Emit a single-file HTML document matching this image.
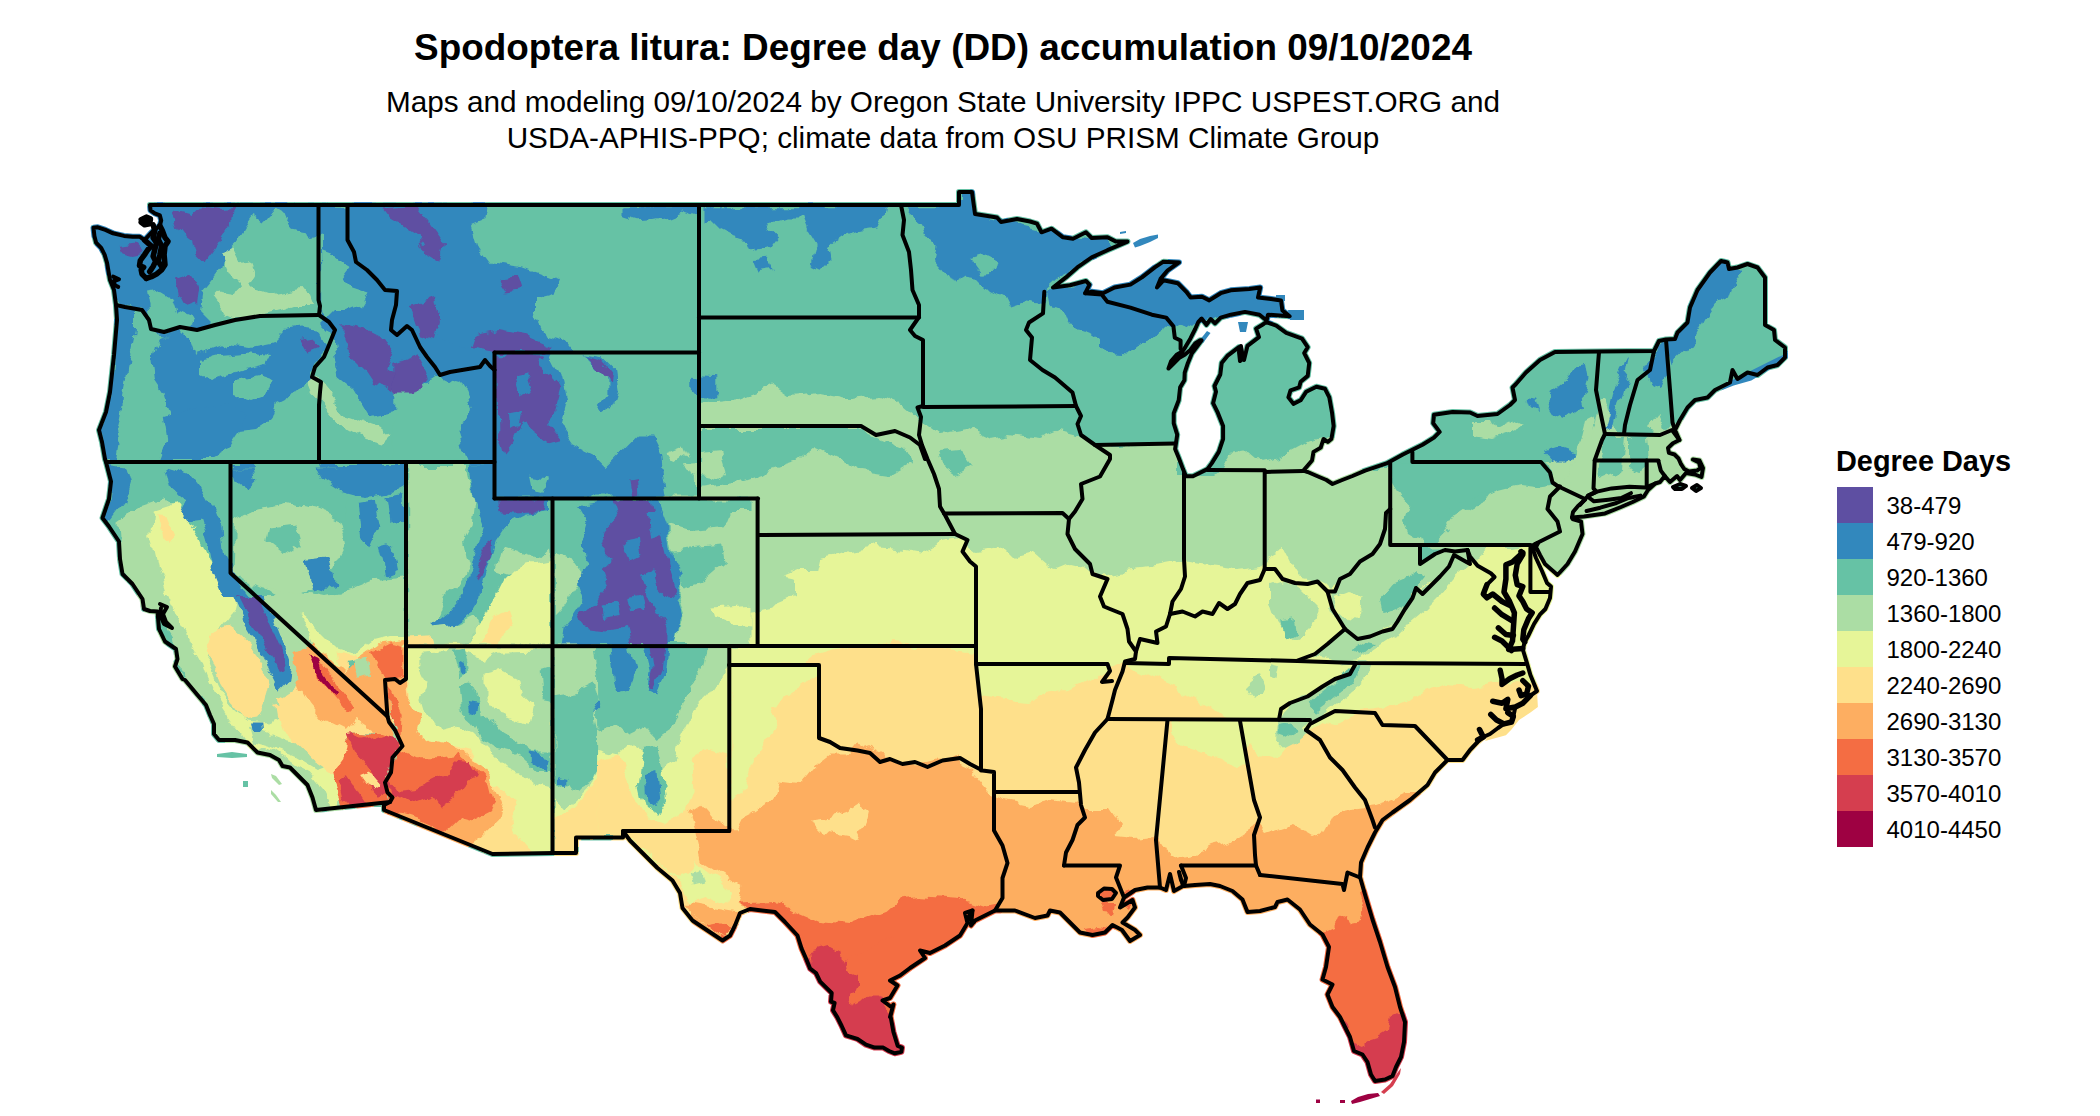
<!DOCTYPE html><html><head><meta charset="utf-8"><title>Spodoptera litura DD</title>
<style>html,body{margin:0;padding:0;background:#fff}body{width:2100px;height:1116px;overflow:hidden;position:relative;font-family:"Liberation Sans",sans-serif;color:#000}#map{position:absolute;left:0;top:0}h1{position:absolute;left:0;top:27.5px;width:1886px;margin:0;text-align:center;font-size:36.9px;font-weight:bold;line-height:40px}.sub{position:absolute;left:0;width:1886px;text-align:center;font-size:29.7px;line-height:36px;margin:0}.lt{position:absolute;left:1836px;top:445px;font-size:28.9px;font-weight:bold;line-height:32px;margin:0}.ll{position:absolute;left:1886.5px;font-size:24px;line-height:36px;height:36px;margin:0}.sw{position:absolute;left:1837px;width:36px;height:36px}</style></head><body>
<svg id="map" width="2100" height="1116" viewBox="0 0 2100 1116" shape-rendering="geometricPrecision">
<defs><mask id="us" maskUnits="userSpaceOnUse" x="0" y="0" width="2100" height="1116"><g fill="#fff" stroke="#fff" stroke-width="6" stroke-linejoin="round"><polygon points="150.0,205.0 959.0,205.0 959.0,192.0 972.0,192.0 975.0,214.0 997.0,217.5 1001.0,222.0 1017.0,219.0 1030.0,221.5 1037.0,223.7 1041.5,232.3 1051.5,228.7 1063.0,237.3 1073.0,238.7 1086.0,232.3 1091.7,238.0 1107.4,237.3 1116.0,241.6 1127.5,241.6 1107.4,250.2 1091.7,257.4 1077.3,267.4 1065.9,277.4 1053.0,287.5 1070.0,285.3 1086.0,281.0 1089.5,284.6 1085.2,293.2 1091.7,291.8 1103.0,293.2 1114.6,287.5 1130.4,284.6 1141.9,277.4 1154.8,267.4 1163.4,261.7 1179.0,262.4 1167.7,270.3 1160.5,278.9 1157.0,287.5 1163.4,280.3 1177.7,283.2 1186.3,291.8 1190.6,297.5 1202.0,296.8 1209.3,300.4 1220.7,293.2 1230.8,290.3 1249.4,288.9 1260.2,287.5 1258.0,297.5 1271.0,299.0 1281.0,300.4 1282.4,310.4 1289.6,316.2 1268.0,314.7 1266.6,320.5 1259.5,314.7 1245.0,311.9 1230.8,314.7 1220.7,317.6 1215.0,323.3 1210.7,319.0 1206.4,324.8 1201.6,318.5 1198.4,321.8 1195.2,329.0 1190.3,338.7 1185.5,346.8 1182.3,351.6 1176.6,354.8 1171.0,361.3 1168.5,368.5 1172.6,364.5 1179.0,358.0 1184.7,354.8 1190.3,350.0 1195.2,343.5 1200.0,340.3 1201.6,340.3 1196.8,346.8 1191.9,353.2 1187.9,362.9 1184.7,372.6 1184.4,380.2 1180.1,387.4 1178.7,400.3 1173.7,413.2 1173.7,423.3 1177.2,434.7 1175.1,449.1 1178.7,457.7 1183.0,469.1 1185.9,476.3 1193.0,476.3 1207.4,469.1 1211.7,463.4 1218.8,451.9 1223.1,439.0 1223.1,426.1 1217.4,411.8 1213.1,403.2 1216.0,391.7 1214.5,386.0 1220.3,374.5 1221.7,363.0 1227.4,355.9 1238.9,347.2 1240.5,358.0 1244.0,360.0 1247.5,345.8 1259.0,337.2 1256.1,328.6 1263.3,324.3 1266.0,322.0 1276.2,325.7 1286.2,332.9 1302.0,338.6 1307.7,347.2 1304.2,353.0 1309.2,363.0 1307.7,375.9 1300.6,381.7 1299.1,387.4 1290.5,390.3 1288.4,397.4 1293.4,403.9 1300.6,400.3 1306.3,391.7 1316.4,386.7 1325.0,388.8 1329.3,397.4 1332.1,413.2 1333.6,426.1 1331.4,439.0 1327.8,441.9 1323.5,439.0 1320.7,447.6 1313.5,451.9 1312.0,460.5 1303.4,470.6 1307.7,472.0 1319.2,477.0 1326.4,480.0 1332.5,484.0 1342.2,480.0 1352.5,476.0 1365.1,470.6 1386.6,463.4 1402.4,454.8 1422.5,444.8 1434.0,437.6 1439.7,431.9 1433.2,423.3 1434.0,414.7 1452.5,412.0 1470.0,412.5 1477.5,416.0 1497.5,414.0 1510.0,405.0 1515.0,400.0 1512.5,387.5 1516.0,384.0 1526.0,372.5 1540.0,360.0 1555.0,352.0 1599.0,351.5 1654.0,351.0 1659.0,341.0 1666.0,339.5 1675.0,339.0 1677.5,332.5 1687.5,322.5 1690.0,307.5 1697.5,290.0 1710.0,272.5 1721.0,261.0 1727.5,262.5 1729.0,269.0 1737.5,267.5 1747.5,264.0 1757.5,267.5 1765.0,277.5 1765.0,325.0 1774.0,330.0 1775.0,340.0 1785.0,347.5 1785.0,357.5 1777.5,365.0 1767.5,367.5 1757.5,375.0 1747.5,372.5 1737.5,379.0 1732.5,370.0 1730.0,382.5 1715.0,390.0 1707.5,397.5 1695.0,400.0 1687.5,407.5 1680.0,420.0 1675.0,430.0 1679.4,440.0 1672.9,443.2 1668.0,448.0 1668.9,452.9 1674.5,454.5 1678.5,458.5 1681.0,464.2 1684.2,469.0 1689.0,471.5 1697.0,470.6 1700.5,468.0 1699.0,462.5 1693.0,459.5 1699.5,460.5 1703.0,468.0 1701.5,477.0 1695.0,474.5 1686.0,473.0 1680.0,480.0 1677.0,476.0 1670.0,482.0 1664.8,476.0 1660.0,482.0 1655.2,483.5 1648.0,490.0 1643.9,496.5 1632.6,502.0 1621.0,507.0 1605.0,513.4 1584.0,516.6 1572.0,517.4 1572.5,519.0 1581.0,521.5 1582.5,534.0 1575.0,551.5 1567.5,564.0 1557.5,575.0 1553.0,571.0 1545.0,564.0 1540.0,555.0 1536.0,547.0 1538.0,543.0 1532.0,547.0 1536.0,558.0 1542.0,571.0 1547.0,583.0 1551.0,586.5 1550.0,598.0 1545.4,609.0 1539.8,614.7 1534.0,624.0 1528.5,635.4 1524.7,642.0 1522.8,649.5 1526.6,661.8 1530.4,675.0 1537.0,691.0 1530.4,695.6 1522.8,703.2 1515.3,707.0 1513.4,716.4 1511.5,722.0 1504.0,723.9 1498.0,728.0 1490.0,734.0 1483.3,737.0 1477.6,742.0 1470.0,750.0 1462.5,760.0 1447.5,760.0 1435.0,772.5 1427.5,785.0 1410.0,800.0 1392.5,812.5 1382.5,820.0 1375.0,832.5 1367.5,847.5 1361.0,862.5 1360.0,877.0 1365.0,894.5 1372.5,919.5 1380.0,942.0 1387.5,967.0 1395.0,987.0 1400.0,1007.0 1405.0,1022.0 1404.0,1042.0 1401.0,1057.0 1396.0,1067.0 1392.5,1076.0 1385.0,1079.5 1375.0,1081.0 1371.0,1074.5 1367.5,1062.0 1362.5,1054.5 1354.0,1051.0 1350.0,1037.0 1345.0,1027.0 1340.0,1017.0 1332.5,1007.0 1327.5,994.5 1332.5,984.5 1322.5,979.5 1326.0,967.0 1329.0,947.0 1322.5,934.5 1310.0,924.5 1300.0,909.5 1287.5,899.5 1277.5,902.0 1275.0,907.0 1260.0,911.0 1247.5,912.0 1242.5,899.5 1232.5,891.0 1220.0,886.0 1210.0,884.0 1195.0,885.0 1184.0,886.0 1181.0,880.0 1179.0,872.0 1183.0,886.0 1174.0,891.0 1170.0,874.0 1166.0,890.0 1160.0,887.5 1147.5,887.5 1135.0,890.0 1124.0,897.5 1120.0,907.5 1132.5,900.0 1135.0,907.5 1127.5,917.5 1122.5,922.5 1135.0,930.0 1140.0,935.0 1130.0,941.0 1122.0,930.0 1112.5,925.0 1105.0,932.5 1092.5,935.0 1080.0,932.5 1070.0,922.5 1060.0,912.5 1050.0,910.5 1047.5,915.5 1035.0,918.0 1015.0,910.5 995.0,910.5 975.0,920.5 971.0,925.5 972.5,910.5 965.0,913.0 967.5,923.0 960.0,935.5 945.0,945.5 930.0,953.0 920.0,950.5 925.0,958.0 910.0,968.0 900.0,975.5 890.0,980.5 897.5,985.5 890.0,998.0 882.5,1000.5 892.5,1008.0 890.0,1017.0 893.4,1004.5 890.5,1016.0 893.4,1031.8 897.7,1046.0 902.0,1047.6 901.3,1051.9 894.8,1053.3 889.0,1051.0 883.3,1047.6 874.7,1047.6 866.0,1044.7 857.5,1039.0 846.0,1035.4 841.7,1026.0 837.4,1017.4 833.0,1010.3 834.6,1003.0 831.0,1001.7 831.7,993.0 826.0,987.3 820.2,981.6 816.0,973.0 810.2,968.7 806.0,958.6 801.6,948.6 797.5,935.5 785.0,922.0 775.0,912.0 750.0,909.0 740.0,913.0 735.0,925.5 730.0,935.5 722.5,940.5 707.5,930.5 692.5,920.5 682.5,908.0 680.0,893.0 672.5,880.5 657.5,868.0 642.5,853.0 630.0,840.5 623.0,831.0 623.0,837.5 576.0,837.5 576.0,853.0 554.0,853.0 492.5,854.0 384.0,810.0 384.0,805.0 390.0,802.0 316.0,810.0 312.5,797.5 307.5,785.0 300.0,777.5 290.0,767.5 282.5,766.0 279.0,760.0 270.0,755.0 257.5,752.5 247.5,742.5 235.0,740.0 219.0,740.0 214.0,734.0 214.0,724.0 210.0,715.0 206.0,705.0 197.5,695.0 185.0,680.0 182.5,679.0 175.0,666.5 177.5,659.0 176.0,649.0 165.0,641.5 159.0,629.0 157.5,611.5 150.0,611.0 144.0,609.0 142.5,599.0 132.5,584.0 122.5,574.0 120.0,559.0 119.0,541.5 109.0,526.5 102.5,518.0 109.0,499.0 111.0,481.5 106.0,462.0 105.0,459.0 102.0,442.0 99.0,430.0 106.0,412.0 110.0,392.0 114.0,355.0 117.0,320.0 116.0,305.0 114.0,290.0 110.0,280.0 107.1,263.1 104.6,254.6 101.2,247.8 96.1,242.7 94.4,235.9 93.5,227.8 97.8,227.3 105.4,229.9 113.0,233.3 124.0,235.9 132.7,236.7 139.5,236.7 144.6,240.1 152.0,232.0 159.9,225.6 161.2,220.5 159.9,215.4 154.8,213.3 150.5,210.3"/>
</g></mask><filter id="rough" x="0" y="0" width="2100" height="1116" filterUnits="userSpaceOnUse"><feTurbulence type="fractalNoise" baseFrequency="0.045" numOctaves="4" seed="7" result="n"/><feDisplacementMap in="SourceGraphic" in2="n" scale="14" xChannelSelector="R" yChannelSelector="G"/></filter></defs>
<g mask="url(#us)"><g filter="url(#rough)">
<rect x="0" y="0" width="2100" height="1116" fill="#66C2A5"/>
<polygon fill="#ABDDA4" points="640.0,1200.0 640.0,520.0 665.0,500.0 668.0,470.0 680.0,440.0 699.0,405.0 740.0,400.0 760.0,392.0 775.0,385.0 790.0,395.0 820.0,392.0 850.0,398.0 880.0,395.0 905.0,405.0 917.0,415.0 940.0,432.0 965.0,428.0 990.0,440.0 1010.0,436.0 1040.0,440.0 1060.0,432.0 1080.0,437.0 1095.0,445.0 1120.0,446.0 1150.0,444.0 1176.0,443.0 1176.0,476.0 1215.0,476.0 1222.0,470.0 1232.0,455.0 1250.0,452.0 1262.0,462.0 1280.0,458.0 1295.0,450.0 1310.0,442.0 1325.0,436.0 1340.0,436.0 1340.0,470.0 1390.0,470.0 1400.0,480.0 1410.0,500.0 1425.0,515.0 1440.0,520.0 1455.0,512.0 1470.0,500.0 1490.0,490.0 1505.0,478.0 1520.0,470.0 1535.0,468.0 1545.0,462.0 1560.0,462.0 1575.0,455.0 1590.0,440.0 1596.0,420.0 1600.0,400.0 1606.0,400.0 1612.0,425.0 1640.0,440.0 1655.0,430.0 1672.0,428.0 1690.0,420.0 1900.0,420.0 1900.0,700.0 1900.0,1200.0 500.0,1200.0"/>
<polygon fill="#66C2A5" points="700.0,428.0 860.0,428.0 880.0,438.0 905.0,448.0 912.0,462.0 890.0,474.0 862.0,470.0 840.0,458.0 815.0,446.0 795.0,462.0 770.0,470.0 740.0,480.0 700.0,486.0"/>
<polygon fill="#66C2A5" points="940.0,452.0 960.0,450.0 972.0,466.0 958.0,474.0 943.0,464.0"/>
<polygon fill="#ABDDA4" points="700.0,452.0 722.0,450.0 728.0,470.0 715.0,478.0 700.0,476.0"/>
<polygon fill="#E6F598" points="640.0,1200.0 640.0,700.0 700.0,640.0 712.0,620.0 740.0,612.0 758.0,610.0 773.0,607.0 797.0,597.0 797.0,580.0 783.0,577.0 800.0,570.0 817.0,570.0 820.0,557.0 840.0,553.0 873.0,547.0 907.0,550.0 923.0,553.0 940.0,543.0 960.0,540.0 977.0,553.0 993.0,550.0 1007.0,547.0 1017.0,557.0 1033.0,553.0 1053.0,570.0 1070.0,563.0 1087.0,567.0 1100.0,577.0 1120.0,573.0 1140.0,570.0 1160.0,567.0 1183.0,563.0 1207.0,567.0 1233.0,570.0 1260.0,567.0 1270.0,555.0 1283.0,548.0 1290.0,562.0 1300.0,578.0 1318.0,582.0 1328.0,592.0 1340.0,580.0 1352.0,574.0 1362.0,562.0 1375.0,554.0 1384.0,560.0 1370.0,580.0 1395.0,600.0 1420.0,590.0 1450.0,572.0 1470.0,560.0 1490.0,548.0 1510.0,548.0 1525.0,545.0 1537.0,548.0 1545.0,562.0 1557.0,576.0 1900.0,576.0 1900.0,700.0 1900.0,1200.0 500.0,1200.0"/>
<polygon fill="#FEE08B" points="560.0,1200.0 600.0,860.0 640.0,800.0 700.0,760.0 735.0,740.0 775.0,690.0 790.0,672.0 815.0,656.0 835.0,650.0 873.0,643.0 907.0,645.0 940.0,650.0 976.0,657.0 981.0,697.0 1007.0,700.0 1027.0,703.0 1047.0,693.0 1067.0,690.0 1087.0,680.0 1107.0,670.0 1120.0,663.0 1135.0,670.0 1160.0,682.0 1180.0,690.0 1197.0,700.0 1215.0,710.0 1228.0,720.0 1235.0,735.0 1250.0,742.0 1262.0,755.0 1278.0,760.0 1290.0,745.0 1300.0,735.0 1310.0,728.0 1322.0,721.0 1335.0,724.0 1350.0,719.0 1360.0,709.0 1385.0,706.0 1405.0,699.0 1430.0,689.0 1447.0,684.0 1472.0,686.0 1500.0,681.0 1522.0,684.0 1900.0,684.0 1900.0,700.0 1900.0,1200.0 500.0,1200.0"/>
<polygon fill="#FDAE61" points="692.0,1200.0 692.0,810.0 705.0,808.0 715.0,823.0 735.0,825.0 745.0,815.0 760.0,808.0 775.0,795.0 780.0,783.0 800.0,780.0 810.0,773.0 820.0,760.0 835.0,753.0 850.0,753.0 865.0,760.0 880.0,770.0 897.0,765.0 917.0,768.0 935.0,765.0 955.0,763.0 970.0,770.0 985.0,788.0 992.0,795.0 1005.0,800.0 1030.0,805.0 1052.0,800.0 1075.0,803.0 1085.0,810.0 1110.0,810.0 1120.0,825.0 1115.0,835.0 1135.0,837.0 1155.0,835.0 1167.0,850.0 1172.0,860.0 1195.0,855.0 1210.0,847.0 1230.0,842.0 1245.0,832.0 1257.0,825.0 1265.0,835.0 1280.0,830.0 1295.0,825.0 1312.0,835.0 1325.0,830.0 1332.0,817.0 1345.0,810.0 1360.0,807.0 1375.0,805.0 1390.0,800.0 1407.0,792.0 1900.0,792.0 1900.0,700.0 1900.0,1200.0 500.0,1200.0"/>
<polygon fill="#F46D43" points="745.0,905.0 760.0,898.0 775.0,898.0 790.0,900.0 800.0,910.0 815.0,918.0 830.0,923.0 850.0,923.0 870.0,918.0 885.0,920.0 900.0,913.0 895.0,900.0 910.0,898.0 920.0,908.0 935.0,903.0 950.0,898.0 970.0,903.0 985.0,908.0 1000.0,905.0 1020.0,1100.0 700.0,1100.0 720.0,930.0"/>
<polygon fill="#F46D43" points="1310.0,940.0 1322.0,934.0 1335.0,928.0 1340.0,915.0 1348.0,912.0 1352.0,922.0 1362.0,920.0 1366.0,905.0 1362.0,890.0 1372.0,888.0 1385.0,925.0 1420.0,1000.0 1420.0,1100.0 1300.0,1100.0"/>
<polygon fill="#D53E4F" points="800.0,965.0 807.0,959.0 814.0,949.0 822.0,946.0 835.0,947.0 842.0,950.0 847.0,960.0 850.0,973.0 859.0,977.0 859.0,987.0 855.0,997.0 849.0,999.0 852.0,1007.0 860.0,1003.0 869.0,994.5 879.0,994.5 886.0,1004.5 892.0,1016.0 910.0,1060.0 850.0,1070.0 800.0,1000.0"/>
<polygon fill="#D53E4F" points="1338.0,1020.0 1345.0,1027.0 1352.0,1042.0 1362.0,1046.0 1368.0,1040.0 1380.0,1036.0 1390.0,1030.0 1393.0,1015.0 1408.0,1008.0 1420.0,1100.0 1330.0,1100.0"/>
<polygon fill="#3288BD" points="90.0,225.0 150.0,203.8 320.0,203.8 320.0,237.5 310.0,240.0 306.2,230.0 292.5,227.5 285.0,217.5 272.5,210.0 262.5,222.5 252.5,215.0 243.8,227.5 235.0,242.5 225.0,252.5 222.5,267.5 212.5,280.0 202.5,292.5 200.0,310.0 210.0,320.0 200.0,330.0 185.0,330.0 165.0,333.8 150.0,330.0 147.5,315.0 142.5,310.0 116.2,305.0 110.0,280.0 100.0,252.5 92.5,245.0"/>
<polygon fill="#66C2A5" points="145.0,292.5 160.0,290.0 172.5,297.5 177.5,312.5 195.0,320.0 190.0,330.0 165.0,331.2 152.5,327.5 148.8,315.0"/>
<polygon fill="#ABDDA4" points="220.0,252.5 232.5,247.5 240.0,262.5 250.0,260.0 255.0,272.5 250.0,280.0 260.0,290.0 275.0,295.0 300.0,290.0 310.0,292.5 315.0,305.0 295.0,305.0 280.0,310.0 260.0,315.0 235.0,316.2 220.0,310.0 212.5,300.0 220.0,292.5 235.0,295.0 240.0,285.0 230.0,275.0"/>
<polygon fill="#5E4FA2" points="172.5,212.5 190.0,217.5 200.0,207.5 220.0,210.0 235.0,208.8 232.5,222.5 222.5,237.5 212.5,252.5 205.0,262.5 197.5,255.0 195.0,245.0 185.0,237.5 177.5,227.5"/>
<polygon fill="#5E4FA2" points="175.0,277.5 190.0,272.5 198.8,285.0 196.2,305.0 186.2,308.8 178.8,295.0"/>
<polygon fill="#5E4FA2" points="120.0,245.0 135.0,242.5 145.0,252.5 132.5,255.0 122.5,252.5"/>
<polygon fill="#3288BD" points="320.0,203.8 485.0,203.8 482.5,220.0 470.0,225.0 475.0,242.5 490.0,262.5 525.0,267.5 560.0,280.0 555.0,292.5 535.0,297.5 535.0,315.0 545.0,335.0 565.0,340.0 575.0,352.5 495.0,352.5 492.5,377.5 485.0,370.0 450.0,380.0 425.0,400.0 392.5,410.0 370.0,415.0 355.0,390.0 337.5,375.0 332.5,345.0 330.0,330.0 320.0,320.0 320.0,240.0"/>
<polygon fill="#66C2A5" points="321.2,250.0 335.0,255.0 347.5,265.0 340.0,275.0 352.5,287.5 367.5,292.5 360.0,305.0 347.5,310.0 335.0,310.0 325.0,320.0 321.2,315.0"/>
<polygon fill="#5E4FA2" points="382.5,207.5 415.0,205.0 430.0,225.0 445.0,245.0 440.0,262.5 427.5,255.0 417.5,235.0 402.5,225.0 390.0,217.5"/>
<polygon fill="#5E4FA2" points="497.5,277.5 517.5,275.0 522.5,290.0 507.5,292.5"/>
<polygon fill="#5E4FA2" points="410.0,305.0 435.0,297.5 440.0,320.0 435.0,340.0 420.0,335.0 415.0,320.0"/>
<polygon fill="#5E4FA2" points="475.0,335.0 500.0,330.0 525.0,335.0 547.5,345.0 545.0,352.5 495.0,352.5 485.0,355.0 470.0,350.0"/>
<polygon fill="#5E4FA2" points="342.5,325.0 365.0,330.0 385.0,340.0 395.0,355.0 390.0,370.0 405.0,380.0 415.0,395.0 405.0,400.0 390.0,390.0 375.0,385.0 365.0,370.0 350.0,355.0 342.5,340.0"/>
<polygon fill="#3288BD" points="495.0,352.5 585.0,352.5 585.0,360.0 570.0,365.0 560.0,380.0 565.0,405.0 575.0,420.0 570.0,440.0 555.0,459.0 495.0,459.0"/>
<polygon fill="#5E4FA2" points="496.2,353.8 550.0,353.8 555.0,370.0 550.0,392.5 557.5,417.5 550.0,435.0 530.0,425.0 517.5,405.0 507.5,430.0 500.0,445.0 496.2,430.0"/>
<polygon fill="#ABDDA4" points="305.0,380.0 315.0,377.5 325.0,387.5 335.0,400.0 345.0,415.0 360.0,420.0 380.0,427.5 392.5,437.5 385.0,445.0 365.0,440.0 347.5,430.0 332.5,417.5 322.5,405.0 310.0,392.5"/>
<polygon fill="#3288BD" points="113.8,305.0 135.0,310.0 135.0,330.0 130.0,355.0 125.0,380.0 122.5,405.0 117.5,430.0 122.5,445.0 120.0,459.0 105.0,459.0 98.8,430.0 106.2,412.5 110.0,392.5 113.8,355.0 117.5,320.0"/>
<polygon fill="#3288BD" points="160.0,335.0 180.0,330.0 190.0,340.0 195.0,355.0 210.0,350.0 230.0,342.5 250.0,345.0 275.0,340.0 285.0,330.0 300.0,327.5 320.0,330.0 327.5,345.0 320.0,360.0 310.0,370.0 310.0,380.0 295.0,387.5 285.0,400.0 275.0,405.0 270.0,420.0 255.0,430.0 235.0,432.5 220.0,440.0 210.0,430.0 200.0,440.0 195.0,459.0 160.0,459.0 167.5,440.0 170.0,415.0 165.0,395.0 155.0,380.0 152.5,360.0 155.0,345.0"/>
<polygon fill="#66C2A5" points="200.0,360.0 220.0,355.0 250.0,352.5 270.0,355.0 265.0,365.0 245.0,370.0 225.0,375.0 210.0,380.0 200.0,375.0"/>
<polygon fill="#66C2A5" points="235.0,380.0 260.0,375.0 275.0,380.0 270.0,392.5 250.0,400.0 235.0,395.0"/>
<polygon fill="#5E4FA2" points="300.0,340.0 315.0,337.5 320.0,347.5 307.5,352.5"/>
<polygon fill="#3288BD" points="622.5,206.2 695.0,206.2 695.0,217.5 680.0,212.5 667.5,217.5 655.0,220.0 635.0,221.2 622.5,217.5"/>
<polygon fill="#3288BD" points="702.5,206.2 885.0,206.2 882.5,217.5 877.5,227.5 860.0,230.0 845.0,235.0 835.0,242.5 825.0,250.0 827.5,262.5 820.0,270.0 810.0,265.0 812.5,252.5 817.5,242.5 810.0,230.0 805.0,217.5 785.0,217.5 770.0,222.5 767.5,230.0 777.5,240.0 770.0,250.0 755.0,252.5 750.0,240.0 735.0,237.5 720.0,230.0 710.0,220.0 702.5,222.5"/>
<polygon fill="#3288BD" points="752.5,260.0 770.0,258.8 772.5,270.0 757.5,272.5"/>
<polygon fill="#3288BD" points="902.5,206.2 960.0,206.2 960.0,192.5 972.0,192.5 975.0,213.8 1045.0,230.0 1110.0,238.8 1110.0,248.8 1060.0,277.5 1045.0,291.2 1042.5,305.0 1025.0,302.5 1010.0,307.5 1005.0,297.5 990.0,290.0 980.0,280.0 965.0,277.5 952.5,285.0 945.0,272.5 935.0,260.0 937.5,247.5 927.5,237.5 920.0,222.5 907.5,212.5"/>
<polygon fill="#66C2A5" points="972.5,260.0 985.0,256.2 997.5,262.5 995.0,272.5 982.5,273.8"/>
<polygon fill="#3288BD" points="1045.0,291.2 1110.0,280.0 1110.0,350.0 1100.0,340.0 1085.0,330.0 1070.0,327.5 1065.0,315.0 1060.0,307.5 1047.5,305.0"/>
<polygon fill="#3288BD" points="585.0,352.5 605.0,355.0 617.5,370.0 620.0,387.5 612.5,405.0 605.0,415.0 592.5,407.5 605.0,400.0 607.5,387.5 595.0,377.5 585.0,370.0"/>
<polygon fill="#5E4FA2" points="585.0,355.0 600.0,360.0 612.5,372.5 617.5,385.0 610.0,387.5 600.0,375.0 590.0,365.0"/>
<polygon fill="#3288BD" points="695.0,377.5 712.5,377.5 716.2,390.0 710.0,398.8 701.2,397.5 695.0,387.5"/>
<polygon fill="#3288BD" points="622.5,437.5 650.0,435.0 660.0,450.0 655.0,459.0 617.5,459.0"/>
<polygon fill="#3288BD" points="1100.0,275.0 1185.0,255.0 1300.0,280.0 1305.0,320.0 1270.0,320.0 1245.0,311.2 1215.0,320.0 1192.5,330.0 1185.0,327.5 1167.5,322.5 1163.8,330.0 1155.0,340.0 1135.0,347.5 1125.0,352.5 1100.0,350.0"/>
<polygon fill="#3288BD" points="1666.2,340.0 1675.0,338.8 1677.5,332.5 1687.5,322.5 1690.0,307.5 1697.5,290.0 1710.0,272.5 1721.2,260.0 1727.5,261.2 1728.8,268.8 1737.5,267.5 1745.0,270.0 1735.0,282.5 1730.0,297.5 1715.0,305.0 1705.0,320.0 1695.0,340.0 1685.0,352.5 1672.5,365.0 1668.8,350.0"/>
<polygon fill="#3288BD" points="1653.8,350.0 1666.2,338.8 1668.8,370.0 1660.0,390.0 1650.0,385.0 1645.0,370.0 1650.0,357.5"/>
<polygon fill="#3288BD" points="1605.0,432.5 1610.0,415.0 1615.0,390.0 1625.0,360.0 1630.0,355.0 1625.0,380.0 1617.5,410.0 1612.5,430.0"/>
<polygon fill="#3288BD" points="1547.5,390.0 1560.0,380.0 1575.0,367.5 1585.0,365.0 1587.5,380.0 1582.5,395.0 1585.0,405.0 1575.0,412.5 1565.0,420.0 1555.0,415.0 1548.8,405.0"/>
<polygon fill="#3288BD" points="1527.5,397.5 1536.2,398.8 1540.0,410.0 1531.2,407.5"/>
<polygon fill="#3288BD" points="1545.0,452.5 1560.0,447.5 1575.0,452.5 1570.0,462.5 1555.0,462.5"/>
<polygon fill="#3288BD" points="1725.0,390.0 1745.0,382.5 1757.5,376.2 1775.0,367.5 1790.0,352.5 1787.5,360.0 1767.5,365.0 1750.0,372.5 1735.0,382.5"/>
<polygon fill="#ABDDA4" points="117.5,521.5 142.5,504.0 165.0,496.5 190.0,524.0 210.0,564.0 230.0,599.0 255.0,634.0 285.0,684.0 300.0,709.0 305.0,738.0 210.0,738.0 200.0,704.0 177.5,664.0 160.0,634.0 142.5,606.5 120.0,564.0"/>
<polygon fill="#3288BD" points="107.5,464.0 125.0,466.5 130.0,484.0 125.0,501.5 110.0,521.5 102.5,517.8 108.8,499.0 111.2,481.5"/>
<polygon fill="#3288BD" points="165.0,466.5 190.0,474.0 200.0,486.5 210.0,504.0 205.0,519.0 185.0,521.5 180.0,509.0 185.0,499.0 170.0,486.5"/>
<polygon fill="#E6F598" points="153.8,511.5 177.5,504.0 200.0,539.0 220.0,584.0 235.0,619.0 255.0,649.0 275.0,684.0 285.0,709.0 272.5,724.0 250.0,724.0 235.0,709.0 215.0,684.0 195.0,654.0 180.0,621.5 167.5,594.0 157.5,564.0 151.2,534.0"/>
<polygon fill="#FEE08B" points="156.2,515.2 167.5,516.5 175.0,534.0 170.0,544.0 161.2,536.5"/>
<polygon fill="#FEE08B" points="200.0,634.0 220.0,624.0 235.0,639.0 250.0,656.5 265.0,674.0 272.5,694.0 270.0,714.0 255.0,719.0 245.0,704.0 230.0,684.0 215.0,664.0 202.5,649.0"/>
<polygon fill="#3288BD" points="200.0,494.0 215.0,509.0 222.5,529.0 225.0,554.0 235.0,574.0 250.0,594.0 265.0,614.0 280.0,634.0 290.0,659.0 292.5,684.0 285.0,691.5 275.0,679.0 265.0,659.0 250.0,639.0 235.0,619.0 222.5,594.0 212.5,569.0 207.5,544.0 200.0,519.0"/>
<polygon fill="#5E4FA2" points="235.0,594.0 250.0,599.0 260.0,619.0 275.0,634.0 285.0,659.0 287.5,676.5 280.0,679.0 270.0,659.0 257.5,639.0 245.0,621.5"/>
<polygon fill="#3288BD" points="232.5,464.0 255.0,464.0 260.0,479.0 250.0,489.0 235.0,484.0"/>
<polygon fill="#3288BD" points="320.0,464.0 405.0,464.0 405.0,484.0 385.0,494.0 360.0,496.5 340.0,489.0 325.0,479.0"/>
<polygon fill="#ABDDA4" points="235.0,499.0 255.0,494.0 275.0,484.0 300.0,489.0 320.0,496.5 335.0,509.0 330.0,529.0 315.0,544.0 305.0,564.0 285.0,576.5 265.0,569.0 250.0,564.0 245.0,576.5 232.5,571.5"/>
<polygon fill="#3288BD" points="360.0,509.0 375.0,501.5 380.0,524.0 370.0,541.5 360.0,529.0"/>
<polygon fill="#3288BD" points="305.0,569.0 320.0,564.0 335.0,574.0 325.0,589.0 310.0,584.0"/>
<polygon fill="#3288BD" points="380.0,549.0 395.0,544.0 400.0,569.0 385.0,574.0"/>
<polygon fill="#ABDDA4" points="255.0,581.5 275.0,579.0 300.0,589.0 325.0,594.0 350.0,589.0 375.0,579.0 405.0,576.5 405.0,639.0 385.0,634.0 365.0,629.0 345.0,639.0 325.0,634.0 305.0,619.0 280.0,599.0"/>
<polygon fill="#E6F598" points="295.0,621.5 310.0,624.0 330.0,639.0 350.0,644.0 370.0,634.0 390.0,639.0 405.0,644.0 405.0,659.0 385.0,654.0 367.5,664.0 355.0,674.0 340.0,669.0 325.0,656.5 310.0,641.5"/>
<polygon fill="#FEE08B" points="295.0,649.0 310.0,644.0 325.0,659.0 335.0,674.0 355.0,676.5 367.5,666.5 385.0,659.0 405.0,659.0 405.0,684.0 387.5,684.0 390.0,719.0 395.0,738.0 285.0,738.0 290.0,709.0 292.5,679.0"/>
<polygon fill="#FDAE61" points="300.0,659.0 312.5,654.0 325.0,669.0 335.0,689.0 350.0,709.0 367.5,724.0 385.0,719.0 382.5,699.0 370.0,684.0 375.0,664.0 395.0,649.0 405.0,649.0 405.0,679.0 385.0,681.5 387.5,716.5 395.0,738.0 310.0,738.0 300.0,709.0 295.0,684.0"/>
<polygon fill="#F46D43" points="372.5,664.0 385.0,654.0 400.0,649.0 405.0,656.5 402.5,676.5 385.0,679.0 375.0,684.0 367.5,676.5"/>
<polygon fill="#9E0142" points="310.0,654.0 320.0,659.0 325.0,676.5 335.0,691.5 347.5,709.0 342.5,711.5 330.0,696.5 320.0,681.5 312.5,669.0"/>
<polygon fill="#F46D43" points="347.5,709.0 367.5,719.0 385.0,724.0 392.5,738.0 355.0,738.0 340.0,719.0"/>
<polygon fill="#ABDDA4" points="407.5,464.0 450.0,466.5 470.0,479.0 475.0,499.0 470.0,524.0 460.0,544.0 450.0,564.0 445.0,584.0 435.0,599.0 430.0,619.0 420.0,634.0 407.5,644.0"/>
<polygon fill="#3288BD" points="475.0,466.5 493.8,466.5 493.8,499.0 500.0,504.0 550.0,501.5 550.0,519.0 525.0,521.5 510.0,534.0 500.0,549.0 490.0,564.0 485.0,584.0 480.0,604.0 460.0,619.0 440.0,629.0 432.5,624.0 445.0,609.0 460.0,589.0 470.0,564.0 480.0,539.0 485.0,519.0 477.5,499.0"/>
<polygon fill="#5E4FA2" points="495.0,504.0 540.0,502.8 535.0,515.2 500.0,517.8"/>
<polygon fill="#5E4FA2" points="485.0,546.5 495.0,544.0 492.5,564.0 482.5,579.0 475.0,594.0 470.0,589.0 480.0,569.0"/>
<polygon fill="#ABDDA4" points="505.0,534.0 525.0,526.5 550.0,524.0 550.0,564.0 525.0,566.5 505.0,574.0 495.0,564.0"/>
<polygon fill="#E6F598" points="500.0,579.0 510.0,569.0 530.0,564.0 550.0,559.0 550.0,644.0 407.5,645.2 407.5,634.0 430.0,631.5 450.0,634.0 470.0,631.5 485.0,634.0 495.0,619.0 490.0,599.0"/>
<polygon fill="#FEE08B" points="495.0,624.0 510.0,619.0 525.0,629.0 510.0,639.0 495.0,639.0"/>
<polygon fill="#3288BD" points="417.2,337.1 494.0,351.5 494.0,463.2 468.8,463.2 463.1,448.9 457.3,426.0 468.8,403.1 457.3,380.1 437.3,374.4 422.9,357.2"/>
<polygon fill="#66C2A5" points="394.3,391.6 437.3,377.3 465.9,391.6 471.7,405.9 460.2,426.0 457.3,448.9 463.1,462.7 394.3,462.7"/>
<polygon fill="#5E4FA2" points="394.3,362.9 417.2,354.3 428.7,374.4 414.3,394.5 394.3,394.5"/>
<polygon fill="#66C2A5" points="494.0,352.0 698.1,352.0 698.1,497.6 494.0,497.6"/>
<polygon fill="#3288BD" points="494.0,352.0 549.0,352.0 560.5,374.4 566.2,403.1 560.5,426.0 572.0,443.2 594.9,454.6 606.4,466.1 623.6,448.9 635.0,437.4 652.2,437.4 660.8,454.6 663.7,477.6 666.6,497.6 494.0,497.6"/>
<polygon fill="#5E4FA2" points="496.0,354.3 543.3,354.3 551.9,374.4 560.5,391.6 554.8,411.7 546.2,423.1 560.5,440.3 549.0,443.2 534.7,431.7 523.2,423.1 514.6,440.3 503.2,454.6 497.4,434.6"/>
<polygon fill="#3288BD" points="583.4,354.3 600.6,357.2 615.0,371.5 617.8,391.6 612.1,408.8 603.5,414.5 597.8,405.9 606.4,394.5 606.4,377.3 594.9,365.8"/>
<polygon fill="#5E4FA2" points="586.3,355.8 600.6,360.1 612.1,374.4 610.7,383.0 600.6,371.5"/>
<polygon fill="#66C2A5" points="529.0,474.7 549.0,477.6 543.3,491.9 531.8,489.0"/>
<polygon fill="#5E4FA2" points="629.3,480.4 637.9,479.0 639.3,494.8 632.2,496.2"/>
<polygon fill="#ABDDA4" points="666.6,454.6 683.7,447.5 686.6,454.6 672.3,463.2"/>
<polygon fill="#ABDDA4" points="680.9,463.2 698.1,461.8 698.1,477.6 686.6,471.8"/>
<polygon fill="#3288BD" points="692.3,375.8 715.3,377.3 715.3,397.3 700.9,398.8 692.3,388.7"/>
<polygon fill="#66C2A5" points="406.3,463.8 494.0,463.8 494.0,498.2 552.5,498.2 552.5,645.2 406.3,645.2"/>
<polygon fill="#ABDDA4" points="407.2,466.1 465.9,466.1 474.5,500.5 471.7,523.4 463.1,540.6 468.8,569.3 457.3,586.5 443.0,598.0 437.3,615.2 431.5,643.8 407.2,643.8"/>
<polygon fill="#3288BD" points="468.8,463.2 494.0,463.2 494.0,497.6 549.0,499.1 549.0,512.0 526.1,514.8 508.9,523.4 497.4,540.6 491.7,557.8 483.1,577.9 480.3,598.0 471.7,612.3 451.6,626.6 434.4,632.3 431.5,623.7 448.7,609.4 463.1,592.2 471.7,569.3 477.4,546.4 483.1,523.4 474.5,500.5"/>
<polygon fill="#5E4FA2" points="496.0,500.5 546.2,500.5 543.3,512.0 514.6,513.4 497.4,512.0"/>
<polygon fill="#5E4FA2" points="483.1,546.4 491.7,540.6 491.7,557.8 483.1,569.3 477.4,583.6 474.5,577.9"/>
<polygon fill="#ABDDA4" points="503.2,546.4 520.4,552.1 537.6,557.8 549.0,546.4 551.3,569.3 514.6,575.0 497.4,569.3"/>
<polygon fill="#E6F598" points="514.6,569.3 537.6,563.6 551.3,560.7 551.3,644.4 465.9,644.4 480.3,626.6 494.6,598.0 503.2,580.8"/>
<polygon fill="#ABDDA4" points="431.5,626.6 457.3,623.7 474.5,615.2 480.3,626.6 465.9,644.4 428.7,644.4"/>
<polygon fill="#FEE08B" points="494.6,615.2 508.9,609.4 514.6,626.6 497.4,640.9 480.3,643.8"/>
<polygon fill="#FEE08B" points="406.3,636.6 434.4,635.2 437.3,644.4 406.3,644.4"/>
<polygon fill="#66C2A5" points="553.6,499.4 686.6,499.4 686.6,647.8 553.6,647.8"/>
<polygon fill="#ABDDA4" points="663.7,499.4 752.5,499.4 752.5,647.8 675.2,647.8 682.3,615.2 676.6,598.0 682.3,575.0 673.7,557.8 668.0,523.4"/>
<polygon fill="#66C2A5" points="658.0,500.5 752.5,500.5 752.5,512.0 729.6,512.0 723.9,526.3 686.6,529.2 666.6,523.4"/>
<polygon fill="#66C2A5" points="669.4,552.1 721.0,546.4 723.9,563.6 703.8,580.8 683.7,586.5 675.2,569.3"/>
<polygon fill="#E6F598" points="712.4,606.6 752.5,603.7 752.5,626.6 729.6,623.7 715.3,618.0"/>
<polygon fill="#ABDDA4" points="554.8,552.1 572.0,557.8 583.4,575.0 572.0,592.2 560.5,609.4 554.8,615.2"/>
<polygon fill="#3288BD" points="577.7,506.2 612.1,500.5 658.0,500.5 666.6,523.4 672.3,557.8 680.9,575.0 675.2,598.0 680.9,615.2 675.2,647.8 560.5,647.8 563.4,626.6 572.0,615.2 583.4,598.0 577.7,580.8 589.2,563.6 583.4,546.4 589.2,526.3"/>
<polygon fill="#5E4FA2" points="612.1,500.5 652.2,500.5 658.0,523.4 663.7,546.4 669.4,569.3 675.2,586.5 669.4,598.0 658.0,586.5 652.2,569.3 640.8,575.0 646.5,592.2 658.0,609.4 669.4,626.6 669.4,647.8 629.3,647.8 623.6,626.6 606.4,629.5 583.4,626.6 577.7,612.3 594.9,603.7 606.4,586.5 600.6,569.3 612.1,557.8 600.6,546.4 606.4,529.2 617.8,517.7"/>
<polygon fill="#ABDDA4" points="185.0,675.0 242.5,675.0 265.0,695.0 285.0,720.0 310.0,730.0 325.0,745.0 335.0,762.5 340.0,785.0 345.0,805.0 316.2,811.2 307.5,785.0 282.5,766.2 257.5,752.5 235.0,740.0 213.8,733.8 206.2,705.0"/>
<polygon fill="#E6F598" points="222.5,690.0 242.5,695.0 265.0,710.0 280.0,730.0 300.0,740.0 320.0,755.0 330.0,775.0 335.0,797.5 325.0,802.5 315.0,780.0 295.0,760.0 270.0,750.0 250.0,735.0 235.0,720.0"/>
<polygon fill="#FEE08B" points="235.0,675.0 290.0,675.0 300.0,695.0 290.0,712.5 270.0,712.5 255.0,702.5 240.0,695.0"/>
<polygon fill="#FDAE61" points="290.0,675.0 385.0,675.0 388.8,715.0 395.0,730.0 385.0,737.5 370.0,732.5 350.0,730.0 335.0,725.0 315.0,720.0 300.0,710.0"/>
<polygon fill="#FEE08B" points="300.0,710.0 315.0,720.0 335.0,725.0 340.0,745.0 332.5,762.5 320.0,752.5 310.0,735.0 295.0,725.0"/>
<polygon fill="#F46D43" points="330.0,755.0 345.0,732.5 392.5,730.0 402.5,746.2 391.2,772.5 385.0,782.5 392.5,797.5 390.0,803.0 340.0,806.2 335.0,787.5"/>
<polygon fill="#D53E4F" points="345.0,735.0 370.0,730.0 385.0,736.2 397.5,745.5 391.2,762.5 385.0,782.5 388.8,800.0 360.0,804.5 352.5,790.0 357.5,775.0 350.0,760.0 342.5,750.0"/>
<polygon fill="#3288BD" points="317.5,742.5 327.5,743.8 327.5,753.8 320.0,752.5"/>
<polygon fill="#FEE08B" points="383.9,644.7 552.5,644.7 552.5,854.9 494.4,854.9 383.9,811.5"/>
<polygon fill="#E6F598" points="406.6,644.7 552.5,644.7 552.5,854.9 533.8,854.9 518.0,837.2 510.1,817.4 518.0,801.7 506.2,789.8 490.4,778.0 478.6,762.2 466.8,750.4 451.0,746.5 431.3,742.5 415.5,730.7 409.6,711.0 407.6,679.4"/>
<polygon fill="#ABDDA4" points="419.4,651.8 451.0,649.9 482.5,659.7 498.3,651.8 552.5,649.9 552.5,789.8 537.7,785.9 522.0,774.1 506.2,766.2 490.4,750.4 474.6,734.6 458.9,724.8 443.1,728.7 427.3,718.9 421.4,699.1 427.3,683.4 419.4,667.6"/>
<polygon fill="#E6F598" points="486.5,675.5 502.2,671.5 518.0,679.4 522.0,695.2 533.8,707.0 529.8,722.8 514.1,718.9 498.3,714.9 486.5,699.1"/>
<polygon fill="#66C2A5" points="456.9,685.3 470.7,683.4 478.6,699.1 482.5,718.9 498.3,730.7 518.0,742.5 533.8,750.4 552.5,750.4 552.5,774.1 537.7,774.1 525.9,762.2 510.1,750.4 494.4,746.5 482.5,738.6 472.7,722.8 458.9,711.0"/>
<polygon fill="#66C2A5" points="539.7,671.5 552.5,667.6 552.5,705.1 541.7,703.1"/>
<polygon fill="#66C2A5" points="452.9,653.8 464.8,651.8 468.7,669.6 458.9,675.5"/>
<polygon fill="#3288BD" points="529.8,750.4 541.7,752.4 549.6,762.2 547.6,774.1 537.7,766.2 529.8,760.3"/>
<polygon fill="#3288BD" points="466.8,701.1 478.6,703.1 476.6,712.9 468.7,711.0"/>
<polygon fill="#3288BD" points="457.9,659.7 463.8,661.7 464.8,671.5 458.9,669.6"/>
<polygon fill="#FDAE61" points="385.9,679.4 405.6,679.4 407.6,699.1 419.4,714.9 415.5,730.7 431.3,742.5 451.0,746.5 466.8,754.4 482.5,766.2 494.4,782.0 502.2,801.7 498.3,821.4 482.5,837.2 466.8,849.0 383.9,813.5"/>
<polygon fill="#F46D43" points="378.0,647.9 405.6,647.9 405.6,679.4 385.9,679.4 401.7,714.9 399.7,750.4 415.5,758.3 439.1,758.3 458.9,754.4 474.6,766.2 490.4,782.0 494.4,797.7 490.4,813.5 474.6,821.4 458.9,817.4 447.0,829.3 419.4,821.4 385.9,811.5 378.0,797.7"/>
<polygon fill="#D53E4F" points="378.0,709.0 391.8,718.9 399.7,746.5 387.9,766.2 393.8,793.8 411.5,803.6 431.3,795.8 439.1,807.6 454.9,797.7 466.8,782.0 478.6,776.0 470.7,762.2 454.9,760.3 447.0,774.1 431.3,782.0 415.5,787.9 399.7,789.8 391.8,778.0"/>
<polygon fill="#E6F598" points="554.5,644.7 729.0,644.7 729.0,832.2 623.7,832.2 625.7,839.1 579.1,839.1 579.1,856.9 554.5,856.9"/>
<polygon fill="#FEE08B" points="596.9,778.0 608.7,774.1 624.5,789.8 636.3,778.0 644.2,797.7 656.0,809.6 671.8,801.7 675.7,778.0 687.6,758.3 703.3,750.4 729.0,778.0 729.0,832.2 623.7,832.2 625.7,839.1 579.1,839.1 579.1,856.9 554.5,856.9 554.5,817.4 569.3,813.5 585.0,797.7"/>
<polygon fill="#FDAE61" points="691.5,811.5 703.3,805.6 711.2,817.4 729.0,813.5 729.0,830.3 699.4,830.3"/>
<polygon fill="#ABDDA4" points="554.5,644.7 729.0,644.7 729.0,663.7 715.2,679.4 703.3,699.1 687.6,707.0 675.7,718.9 671.8,738.6 660.0,750.4 648.1,758.3 636.3,750.4 624.5,742.5 628.4,726.8 632.4,707.0 620.5,699.1 608.7,711.0 596.9,726.8 600.8,750.4 596.9,770.1 589.0,789.8 577.2,801.7 565.3,809.6 554.5,797.7"/>
<polygon fill="#66C2A5" points="554.5,695.2 577.2,691.3 592.9,683.4 596.9,699.1 594.9,718.9 598.8,742.5 600.8,758.3 592.9,778.0 585.0,789.8 577.2,793.8 569.3,782.0 561.4,785.9 554.5,778.0"/>
<polygon fill="#66C2A5" points="592.9,651.8 616.6,644.7 675.7,644.7 711.2,649.9 707.3,667.6 695.5,675.5 683.6,691.3 675.7,707.0 660.0,718.9 644.2,714.9 636.3,699.1 624.5,691.3 612.6,679.4 596.9,675.5"/>
<polygon fill="#66C2A5" points="644.2,762.2 660.0,758.3 663.9,778.0 661.9,801.7 652.1,807.6 644.2,793.8"/>
<polygon fill="#3288BD" points="612.6,644.7 644.2,644.7 640.3,659.7 632.4,667.6 634.3,687.3 624.5,693.2 616.6,683.4 614.6,663.7"/>
<polygon fill="#3288BD" points="652.1,644.7 675.7,644.7 671.8,663.7 667.9,679.4 656.0,695.2 646.2,695.2 648.1,679.4 656.0,663.7"/>
<polygon fill="#3288BD" points="646.2,774.1 656.0,776.0 658.0,797.7 650.1,803.6 646.2,789.8"/>
<polygon fill="#3288BD" points="592.9,705.1 602.8,701.1 604.8,707.0 594.9,712.9"/>
<polygon fill="#3288BD" points="559.4,774.1 567.3,776.0 567.3,783.9 560.4,782.0"/>
<polygon fill="#5E4FA2" points="624.5,644.7 636.3,644.7 634.3,655.8 626.5,653.8"/>
<polygon fill="#5E4FA2" points="656.0,651.8 665.9,649.9 663.9,671.5 656.0,691.3 650.1,689.3 654.1,675.5"/>
<polygon fill="#ABDDA4" points="145.9,595.9 265.4,595.9 405.5,595.9 405.5,678.3 387.0,679.3 389.0,715.4 403.5,744.2 393.1,760.7 387.0,777.2 392.1,804.0 314.8,812.2 145.9,682.4"/>
<polygon fill="#66C2A5" points="150.0,612.4 162.4,624.7 172.7,641.2 176.8,661.8 187.1,680.4 199.5,696.8 211.8,717.5 215.9,736.0 211.8,740.1 205.6,715.4 191.2,690.7 176.8,668.0 170.6,653.6 158.2,628.8"/>
<polygon fill="#E6F598" points="170.6,595.9 236.5,595.9 232.4,612.4 222.1,626.8 211.8,641.2 207.7,661.8 218.0,686.5 232.4,707.2 246.8,721.6 265.4,723.6 281.9,715.4 294.2,707.2 310.7,715.4 327.2,727.8 335.5,744.2 331.3,760.7 335.5,777.2 343.7,793.7 335.5,806.1 327.2,804.0 319.0,785.5 306.6,771.0 294.2,764.8 277.8,752.5 261.3,748.4 248.9,744.2 240.7,731.9 228.3,715.4 215.9,696.8 207.7,678.3 201.5,659.8 191.2,641.2 180.9,622.7"/>
<polygon fill="#ABDDA4" points="248.9,727.8 265.4,731.9 286.0,740.1 306.6,744.2 323.1,752.5 327.2,764.8 314.8,769.0 294.2,756.6 273.6,748.4 253.0,742.2"/>
<polygon fill="#FEE08B" points="211.8,633.0 228.3,626.8 246.8,641.2 261.3,661.8 269.5,682.4 265.4,703.0 257.2,717.5 244.8,719.5 232.4,703.0 220.1,682.4 211.8,661.8 207.7,645.3"/>
<polygon fill="#ABDDA4" points="261.3,595.9 294.2,595.9 314.8,626.8 306.6,645.3 294.2,641.2 286.0,624.7"/>
<polygon fill="#3288BD" points="232.4,595.9 261.3,595.9 273.6,620.6 281.9,641.2 290.1,665.9 288.1,682.4 279.8,690.7 273.6,678.3 265.4,661.8 255.1,641.2 242.7,620.6"/>
<polygon fill="#5E4FA2" points="238.6,595.9 257.2,595.9 269.5,624.7 281.9,653.6 283.9,670.1 277.8,672.1 269.5,653.6 259.2,633.0 246.8,612.4"/>
<polygon fill="#3288BD" points="251.0,723.6 261.3,723.6 262.3,733.9 253.0,733.9"/>
<polygon fill="#3288BD" points="316.9,742.2 327.2,744.2 327.2,754.5 319.0,752.5"/>
<polygon fill="#E6F598" points="298.4,612.4 314.8,626.8 335.5,647.4 356.1,653.6 372.5,641.2 389.0,637.1 405.5,637.1 405.5,649.5 387.0,661.8 368.4,668.0 356.1,678.3 376.7,698.9 387.0,715.4 356.1,690.7 335.5,670.1 314.8,649.5"/>
<polygon fill="#FEE08B" points="277.8,698.9 294.2,688.6 306.6,678.3 314.8,661.8 327.2,672.1 335.5,686.5 347.8,703.0 360.2,715.4 376.7,715.4 389.0,715.4 393.1,723.6 376.7,731.9 356.1,731.9 343.7,744.2 331.3,756.6 327.2,727.8 310.7,715.4 294.2,707.2 281.9,715.4"/>
<polygon fill="#FEE08B" points="335.5,651.5 356.1,655.6 368.4,668.0 356.1,680.4 372.5,696.8 356.1,692.7 339.6,674.2"/>
<polygon fill="#FDAE61" points="306.6,661.8 314.8,649.5 327.2,657.7 335.5,672.1 347.8,690.7 364.3,703.0 384.9,711.3 389.0,719.5 397.3,744.2 376.7,733.9 360.2,723.6 343.7,711.3 331.3,696.8 319.0,686.5 308.7,678.3"/>
<polygon fill="#FDAE61" points="294.2,682.4 302.5,678.3 306.6,690.7 298.4,692.7"/>
<polygon fill="#FDAE61" points="364.3,668.0 380.8,653.6 393.1,645.3 405.5,647.4 405.5,678.3 397.3,682.4 387.0,679.3 387.0,696.8 389.0,711.3 376.7,698.9 368.4,686.5"/>
<polygon fill="#F46D43" points="376.7,665.9 389.0,655.6 403.5,651.5 405.5,676.2 389.0,676.2 380.8,678.3"/>
<polygon fill="#66C2A5" points="345.8,661.8 358.1,659.8 366.4,672.1 356.1,680.4 345.8,674.2"/>
<polygon fill="#3288BD" points="353.0,667.0 359.1,668.0 359.1,674.2 353.0,673.2"/>
<polygon fill="#9E0142" points="310.7,651.5 321.0,655.6 325.1,670.1 331.3,682.4 341.6,692.7 337.5,694.8 327.2,684.5 319.0,672.1"/>
<polygon fill="#F46D43" points="331.3,756.6 343.7,744.2 356.1,731.9 376.7,733.9 397.3,742.2 403.5,744.2 389.0,764.8 384.9,781.3 392.1,804.0 343.7,808.1 335.5,785.5"/>
<polygon fill="#D53E4F" points="347.8,736.0 360.2,733.9 372.5,742.2 384.9,738.1 397.3,740.1 402.4,745.3 393.1,758.7 387.0,775.1 390.1,791.6 376.7,797.8 368.4,785.5 372.5,773.1 364.3,760.7 354.0,750.4"/>
<polygon fill="#D53E4F" points="339.6,781.3 347.8,777.2 356.1,789.6 364.3,801.9 356.1,806.7 343.7,799.9"/>
<polygon fill="#FEE08B" points="358.1,775.1 368.4,771.0 380.8,785.5 374.6,789.6 364.3,783.4"/>
<polygon fill="#E6F598" points="671.7,644.0 729.6,644.0 729.6,829.2 622.9,829.2 622.9,837.8 597.1,837.8 597.1,748.9 628.7,743.2 657.3,760.4 674.5,726.0"/>
<polygon fill="#FEE08B" points="597.1,760.4 617.2,754.6 628.7,777.6 637.3,800.5 645.9,817.7 668.8,823.4 686.0,812.0 694.6,789.0 691.7,760.4 708.9,748.9 726.1,754.6 729.6,829.2 622.9,829.2 622.9,837.8 597.1,837.8"/>
<polygon fill="#ABDDA4" points="708.9,644.0 729.6,644.0 729.6,664.4 720.4,680.1 708.9,697.3 691.7,714.5 680.3,737.4 674.5,760.4 663.1,771.8 651.6,766.1 645.9,748.9 628.7,743.2 617.2,754.6 597.1,748.9 597.1,731.7 617.2,726.0 628.7,734.6 645.9,726.0 657.3,737.4 674.5,726.0 686.0,697.3 703.2,674.4"/>
<polygon fill="#66C2A5" points="597.1,644.0 708.9,644.0 703.2,674.4 686.0,697.3 674.5,726.0 657.3,737.4 645.9,726.0 628.7,734.6 617.2,726.0 597.1,731.7"/>
<polygon fill="#66C2A5" points="643.0,748.9 657.3,746.0 663.1,769.0 665.9,800.5 657.3,814.8 645.9,809.1 640.1,783.3"/>
<polygon fill="#3288BD" points="611.5,644.0 628.7,644.0 634.4,668.7 628.7,691.6 617.2,694.5 614.3,674.4"/>
<polygon fill="#3288BD" points="645.9,644.0 668.8,644.0 665.9,674.4 657.3,694.5 648.7,691.6 651.6,668.7"/>
<polygon fill="#5E4FA2" points="651.6,644.0 664.5,644.0 661.6,671.5 654.5,688.7 650.2,685.9 654.5,665.8"/>
<polygon fill="#3288BD" points="645.9,774.7 657.3,771.8 660.2,800.5 654.5,809.1 647.3,803.4"/>
<polygon fill="#FDAE61" points="688.9,812.0 700.3,804.8 711.8,817.7 714.6,829.2 694.6,829.2"/>
<polygon fill="#FEE08B" points="730.4,664.4 819.3,664.4 819.3,736.0 858.0,754.6 915.3,766.1 960.0,760.4 960.0,840.6 622.9,840.6 622.9,830.3 729.6,830.3"/>
<polygon fill="#FEE08B" points="622.9,830.3 743.3,830.3 749.0,909.4 726.1,940.9 680.3,903.7"/>
<polygon fill="#E6F598" points="730.4,664.4 817.8,664.4 819.3,674.4 800.6,685.9 783.4,691.6 772.0,708.8 777.7,726.0 766.2,743.2 754.8,760.4 749.0,777.6 743.3,794.8 730.4,800.5"/>
<polygon fill="#FDAE61" points="691.7,812.0 700.3,806.2 711.8,820.6 726.1,829.2 737.6,829.2 743.3,817.7 754.8,812.0 772.0,800.5 777.7,780.4 800.6,783.3 817.8,763.2 829.3,754.6 846.5,754.6 858.0,740.3 875.2,751.8 898.1,763.2 926.7,763.2 960.0,754.6 960.0,959.9 800.6,959.9 777.7,915.2 749.0,909.4 737.6,903.7 743.3,889.4 720.4,875.0 703.2,863.6 697.4,840.6"/>
<polygon fill="#E6F598" points="628.7,834.9 657.3,837.8 686.0,840.6 694.6,857.8 703.2,869.3 720.4,880.8 731.8,892.2 726.1,903.7 708.9,898.0 691.7,903.7 683.1,892.2 677.4,880.8 665.9,869.3 645.9,852.1"/>
<polygon fill="#FEE08B" points="657.3,846.4 680.3,849.2 694.6,869.3 686.0,875.0 668.8,863.6"/>
<polygon fill="#ABDDA4" points="688.9,875.0 700.3,872.2 703.2,883.6 691.7,886.5"/>
<polygon fill="#FDAE61" points="683.1,903.7 694.6,915.2 708.9,926.6 723.2,938.1 734.7,923.7 743.3,912.3 726.1,909.4 708.9,906.6 694.6,903.7"/>
<polygon fill="#F46D43" points="706.0,923.7 723.2,938.1 731.8,926.6 720.4,920.9"/>
<polygon fill="#FEE08B" points="809.2,820.6 829.3,817.7 846.5,812.0 858.0,804.8 869.4,812.0 866.6,823.4 852.2,829.2 858.0,840.6 846.5,834.9 829.3,832.0 823.6,837.8 812.1,826.3"/>
<polygon fill="#F46D43" points="749.0,909.4 772.0,906.6 789.2,915.2 800.6,926.6 817.8,932.3 846.5,929.5 875.2,923.7 898.1,915.2 898.1,898.0 921.0,895.1 960.0,898.0 960.0,959.9 800.6,959.9"/>
<polygon fill="#D53E4F" points="806.4,949.5 817.8,943.8 837.9,946.7 846.5,959.9 806.4,959.9"/>
<polygon fill="#66C2A5" points="1391.2,462.8 1545.0,462.8 1550.0,474.0 1557.5,484.0 1540.0,486.5 1520.0,484.0 1500.0,489.0 1485.0,494.0 1470.0,504.0 1455.0,509.0 1445.0,519.0 1435.0,531.5 1422.5,541.5 1410.0,534.0 1405.0,521.5 1410.0,506.5 1400.0,496.5 1392.5,484.0"/>
<polygon fill="#66C2A5" points="1422.5,534.0 1435.0,524.0 1445.0,509.0 1460.0,501.5 1475.0,494.0 1490.0,491.5 1485.0,499.0 1470.0,506.5 1455.0,516.5 1445.0,531.5 1435.0,541.5 1422.5,545.2"/>
<polygon fill="#ABDDA4" points="1331.2,594.0 1340.0,579.0 1360.0,561.5 1380.0,544.0 1390.0,545.2 1420.0,545.2 1420.0,564.0 1445.0,550.2 1467.5,550.2 1453.8,555.2 1440.0,576.5 1416.2,587.8 1397.5,621.5 1370.0,636.5 1357.5,639.0 1345.0,629.0 1332.5,609.0"/>
<polygon fill="#E6F598" points="1333.8,595.2 1350.0,589.0 1362.5,599.0 1360.0,614.0 1350.0,621.5 1340.0,611.5"/>
<polygon fill="#ABDDA4" points="1357.5,639.0 1382.5,631.5 1397.5,621.5 1412.5,597.8 1432.5,584.0 1448.8,566.5 1460.0,559.0 1470.0,564.0 1455.0,576.5 1440.0,594.0 1425.0,609.0 1410.0,621.5 1400.0,634.0 1385.0,644.0 1370.0,654.0 1355.0,661.5 1335.0,662.8 1315.0,659.0 1327.5,644.0 1345.0,629.0"/>
<polygon fill="#66C2A5" points="1380.0,599.0 1392.5,584.0 1410.0,576.5 1420.0,569.0 1425.0,576.5 1415.0,589.0 1407.5,604.0 1395.0,611.5 1382.5,614.0"/>
<polygon fill="#66C2A5" points="1350.0,651.5 1365.0,641.5 1375.0,644.0 1360.0,656.5"/>
<polygon fill="#66C2A5" points="1420.0,546.5 1442.5,546.5 1435.0,555.2 1421.2,561.5"/>
<polygon fill="#ABDDA4" points="1356.2,662.8 1375.0,664.0 1370.0,676.5 1355.0,689.0 1340.0,701.5 1325.0,711.5 1310.0,719.0 1300.0,729.0 1285.0,734.0 1270.0,738.0 1260.0,738.0 1280.0,719.0 1290.0,702.8 1307.5,696.5 1322.5,686.5 1335.0,679.0 1350.0,674.0"/>
<polygon fill="#66C2A5" points="1350.0,666.5 1362.5,666.5 1355.0,681.5 1340.0,691.5 1325.0,704.0 1315.0,711.5 1310.0,706.5 1322.5,694.0 1335.0,684.0"/>
<polygon fill="#ABDDA4" points="1270.0,584.0 1285.0,579.0 1300.0,589.0 1310.0,599.0 1320.0,609.0 1315.0,621.5 1305.0,634.0 1295.0,639.0 1285.0,631.5 1275.0,619.0 1270.0,604.0"/>
<polygon fill="#66C2A5" points="1280.0,621.5 1295.0,619.0 1297.5,631.5 1285.0,639.0"/>
<polygon fill="#ABDDA4" points="1250.0,676.5 1260.0,674.0 1265.0,689.0 1255.0,699.0 1247.5,689.0"/>
<polygon fill="#ABDDA4" points="1270.0,664.0 1280.0,666.5 1277.5,679.0 1270.0,676.5"/>
<polygon fill="#ABDDA4" points="1265.0,720.0 1295.0,720.0 1307.5,730.0 1300.0,742.5 1285.0,750.0 1275.0,740.0 1267.5,730.0"/>
<polygon fill="#66C2A5" points="1277.5,725.0 1292.5,722.5 1297.5,730.0 1285.0,737.5 1277.5,735.0"/>
<polygon fill="#E6F598" points="1167.5,721.2 1240.0,721.2 1245.0,760.0 1235.0,765.0 1220.0,757.5 1200.0,752.5 1185.0,747.5 1170.0,735.0"/>
<polygon fill="#E6F598" points="1240.0,721.2 1277.5,720.0 1275.0,740.0 1285.0,750.0 1275.0,752.5 1260.0,742.5 1250.0,745.0 1245.0,760.0"/>
<polygon fill="#66C2A5" points="1605.0,436.0 1625.0,436.0 1622.0,470.0 1600.0,480.0 1598.0,460.0"/>
<polygon fill="#66C2A5" points="1628.0,436.0 1646.0,436.0 1648.0,462.0 1640.0,475.0 1628.0,470.0"/>
<polygon fill="#ABDDA4" points="1585.0,420.0 1595.0,415.0 1592.5,440.0 1585.0,465.0 1575.0,480.0 1565.0,485.0 1575.0,460.0 1580.0,440.0"/>
<polygon fill="#ABDDA4" points="1475.0,420.0 1490.0,420.0 1495.0,430.0 1515.0,420.0 1525.0,425.0 1505.0,435.0 1490.0,440.0 1475.0,437.5"/>
<polygon fill="#ABDDA4" points="1650.0,425.0 1657.5,415.0 1665.0,430.0 1657.5,435.0"/>
<polygon fill="#FDAE61" points="293.3,653.3 313.3,643.3 326.7,656.7 343.3,673.3 360.0,656.7 380.0,643.3 403.3,640.0 405.0,673.3 388.3,680.0 388.3,713.3 373.3,706.7 360.0,716.7 346.7,733.3 326.7,723.3 310.0,703.3 296.7,680.0"/>
<polygon fill="#FEE08B" points="273.3,706.7 300.0,700.0 326.7,723.3 346.7,736.7 343.3,760.0 333.3,773.3 313.3,760.0 293.3,740.0 276.7,726.7"/>
<polygon fill="#F46D43" points="370.0,653.3 390.0,643.3 403.3,646.7 403.3,673.3 388.3,678.3 380.0,670.0"/>
<polygon fill="#F46D43" points="313.3,660.0 326.7,666.7 340.0,686.7 353.3,706.7 346.7,713.3 330.0,693.3 316.7,676.7"/>
<polygon fill="#9E0142" points="310.0,653.3 318.3,656.7 323.3,673.3 336.7,690.0 331.7,693.3 318.3,678.3"/>
<polygon fill="#ABDDA4" points="353.3,660.0 366.7,656.7 370.0,673.3 358.3,676.7"/>
<polygon fill="#3288BD" points="623.6,540.6 637.9,537.8 640.8,555.0 629.3,560.7"/>
<polygon fill="#3288BD" points="629.3,598.0 643.6,595.1 646.5,612.3 632.2,615.2"/>
<polygon fill="#3288BD" points="646.5,512.0 658.0,512.0 660.8,534.9 652.2,537.8"/>
<polygon fill="#3288BD" points="600.6,606.6 617.8,603.7 620.7,618.0 603.5,620.9"/>
<polygon fill="#3288BD" points="514.6,374.4 529.0,371.5 534.7,388.7 520.4,394.5"/>
<polygon fill="#3288BD" points="508.9,414.5 523.2,411.7 520.4,426.0 510.3,428.9"/>
<polygon fill="#3288BD" points="537.6,357.2 549.0,357.2 551.9,371.5 543.3,374.4"/>
<polygon fill="#F46D43" points="1099.0,902.0 1114.0,902.0 1112.0,914.0 1103.0,913.0"/>
<polygon fill="#F46D43" points="1084.0,928.0 1100.0,926.0 1114.0,929.0 1112.0,939.0 1090.0,939.0"/>
<polygon fill="#F46D43" points="1122.0,893.0 1136.0,890.0 1138.0,900.0 1128.0,908.0 1122.0,904.0"/>
<polygon fill="#3288BD" points="162.8,420.1 198.3,408.3 227.8,402.4 245.6,414.2 239.7,431.9 227.8,449.7 210.1,459.1 168.7,459.1"/>
<polygon fill="#66C2A5" points="232.3,467.4 340.2,467.4 346.1,497.0 346.1,520.6 316.5,508.8 287.0,502.9 257.4,508.8 232.3,520.6"/>
<polygon fill="#ABDDA4" points="233.8,520.6 257.4,508.8 287.0,502.9 316.5,508.8 340.2,520.6 346.1,544.3 334.3,567.9 316.5,585.7 287.0,591.6 257.4,585.7 233.8,573.9"/>
<polygon fill="#3288BD" points="232.3,467.4 254.5,467.4 257.4,479.2 248.5,488.1 233.8,482.2"/>
<polygon fill="#3288BD" points="316.5,467.4 403.8,467.4 403.8,485.2 387.5,494.0 363.9,497.0 340.2,491.1 322.5,479.2"/>
<polygon fill="#3288BD" points="357.9,502.9 375.7,499.9 378.6,523.6 369.8,544.3 360.9,532.5"/>
<polygon fill="#3288BD" points="387.5,497.0 402.3,494.0 403.8,520.6 390.5,523.6"/>
<polygon fill="#3288BD" points="304.7,562.0 328.4,559.1 334.3,582.7 313.6,588.6"/>
<polygon fill="#3288BD" points="378.6,547.2 390.5,544.3 396.4,570.9 386.0,575.3"/>
<polygon fill="#66C2A5" points="269.2,526.5 292.9,523.6 298.8,544.3 281.1,556.1 266.3,544.3"/>
<polygon fill="#F46D43" points="736.7,901.7 773.3,900.0 800.0,913.3 820.0,921.7 853.3,925.0 886.7,911.7 900.0,900.0 900.0,933.3 820.0,972.0 806.7,953.3 793.3,930.0 773.3,910.0 750.0,908.3"/>
<polygon fill="#D53E4F" points="810.0,950.0 826.7,945.0 841.7,953.3 845.0,972.0 813.3,972.0"/>
<polygon fill="#FEE08B" points="630.0,835.0 693.3,833.3 696.7,866.7 676.7,876.7 660.0,863.3 643.3,846.7"/>
</g></g>
<polygon fill="#66C2A5" points="1673.0,487.0 1680.0,484.0 1686.0,486.0 1682.0,489.0 1675.0,489.0"/>
<polygon fill="#66C2A5" points="1692.0,488.0 1697.0,485.0 1701.0,488.0 1696.0,491.0"/>
<polygon fill="#3288BD" points="1199.0,341.0 1207.0,331.0 1210.5,333.0 1203.0,343.0"/>
<polygon fill="#3288BD" points="1721.0,390.6 1733.7,385.5 1751.3,380.5 1763.9,373.0 1776.4,365.5 1787.7,357.9 1787.7,352.9 1776.4,357.9 1761.4,365.5 1746.3,373.0 1731.2,380.5"/>
<polygon fill="#F46D43" points="1098.0,893.0 1104.0,888.5 1112.0,889.0 1116.0,893.0 1112.0,899.0 1103.0,900.0 1098.0,896.0"/>
<polygon fill="#FEE08B" points="1537.0,691.0 1537.9,707.0 1530.4,712.6 1519.0,720.0 1511.5,729.5 1505.9,735.2 1485.0,741.0 1490.0,734.0 1498.0,728.0 1504.0,723.9 1511.5,722.0 1513.4,716.4 1515.3,707.0 1522.8,703.2 1530.4,695.6"/>
<polygon fill="#3288BD" points="1133.0,243.0 1140.0,239.0 1150.0,236.0 1158.0,234.5 1158.0,238.0 1150.0,242.0 1140.0,246.0 1135.0,247.5"/>
<polygon fill="#3288BD" points="1276.0,295.0 1285.0,295.0 1285.0,301.0 1276.0,301.0"/>
<polygon fill="#3288BD" points="1288.0,310.0 1304.0,310.0 1304.0,320.0 1290.0,320.0"/>
<polygon fill="#3288BD" points="1238.0,322.0 1248.0,322.0 1246.0,332.0 1240.0,332.0"/>
<polygon fill="#66C2A5" points="217.0,754.0 232.0,752.0 247.0,754.0 247.0,757.0 232.0,758.0 217.0,757.0"/>
<polygon fill="#ABDDA4" points="271.0,774.0 276.0,776.0 282.0,784.0 279.0,785.0 272.0,778.0"/>
<polygon fill="#ABDDA4" points="271.0,790.0 276.0,795.0 281.0,802.0 278.0,802.0 271.0,794.0"/>
<polygon fill="#66C2A5" points="243.0,781.0 248.0,781.0 248.0,787.0 243.0,787.0"/>
<polygon fill="#9E0142" points="1351.0,1101.0 1358.0,1097.0 1368.0,1094.0 1378.0,1093.0 1380.0,1096.0 1370.0,1099.0 1360.0,1102.0 1352.0,1104.0"/>
<polygon fill="#9E0142" points="1316.0,1099.5 1320.0,1099.5 1320.0,1103.0 1316.0,1103.0"/>
<polygon fill="#9E0142" points="1340.0,1100.0 1345.0,1100.0 1345.0,1103.0 1340.0,1103.0"/>
<polygon fill="#D53E4F" points="1381.0,1092.0 1390.0,1084.0 1398.0,1072.0 1401.0,1068.0 1400.0,1074.0 1393.0,1086.0 1384.0,1094.0"/>
<polygon fill="#3288BD" points="1120.0,232.0 1126.0,231.0 1126.0,233.0 1120.0,234.0"/>
<g fill="none" stroke="#000" stroke-width="4" stroke-linejoin="round" stroke-linecap="round">
<polyline points="116.0,305.0 125.0,307.0 142.0,310.0 149.0,320.0 151.0,329.0 164.0,332.0 180.0,327.0 197.0,330.0 215.0,325.0 235.0,320.0 260.0,316.0 319.0,315.0"/>
<polyline points="318.5,205.0 318.5,300.0 320.0,306.0 319.0,315.0 329.0,322.0 335.0,330.0 329.0,345.0 324.0,357.0 315.0,367.0 312.0,377.0 321.0,382.0 320.0,392.0 319.0,405.0 319.0,462.0"/>
<polyline points="347.5,205.0 347.5,240.0 354.0,252.0 356.0,262.0 367.0,270.0 377.0,280.0 385.0,290.0 397.0,291.0 396.0,305.0 392.0,320.0 391.0,330.0 397.0,335.0 407.0,326.0 412.0,330.0 420.0,347.0 427.0,357.0 435.0,367.0 440.0,375.0 450.0,372.0 480.0,367.0 485.0,360.0 490.0,366.0 494.5,370.0"/>
<polyline points="494.5,352.5 699.0,352.5"/>
<polyline points="494.5,352.5 494.5,498.5"/>
<polyline points="494.5,498.5 758.0,498.5"/>
<polyline points="106.0,462.0 494.5,462.0"/>
<polyline points="699.0,205.0 699.0,498.5"/>
<polyline points="699.0,317.5 919.0,317.5"/>
<polyline points="699.0,426.0 861.0,426.0 876.0,435.0 895.0,431.0 910.0,437.5 920.0,445.0 925.0,459.0"/>
<polyline points="901.0,205.0 904.0,220.0 902.5,235.0 909.0,252.0 911.0,270.0 912.5,290.0 919.0,305.0 919.0,317.0 910.0,330.0 915.0,336.0 923.0,340.0 923.0,406.0 917.5,407.5 921.0,417.0 919.0,435.0 922.0,445.0 927.5,459.0 934.0,474.0 939.0,489.0 940.0,506.5 945.0,515.0 955.0,534.0 967.5,540.0 962.5,551.5 970.0,561.5 976.0,566.5 976.0,664.0 981.0,709.0 981.0,770.5"/>
<polyline points="923.0,407.0 1076.0,406.0"/>
<polyline points="1044.3,291.8 1043.0,313.3 1029.0,322.5 1026.0,330.0 1032.0,337.5 1030.0,360.0 1042.5,370.0 1055.0,377.5 1072.5,392.5 1076.0,406.0 1081.0,416.0 1077.5,424.0 1081.0,435.0 1095.0,445.0 1110.0,455.0 1110.0,459.0 1100.0,476.5 1081.0,484.0 1082.5,499.0 1075.0,511.5 1069.0,519.0 1067.5,534.0 1075.0,549.0 1090.0,564.0 1092.5,574.0 1107.5,579.0 1100.0,596.5 1104.0,606.5 1110.0,609.0 1122.5,614.0 1127.5,629.0 1129.0,641.5 1136.0,651.5 1135.0,659.0 1125.0,661.5 1122.5,671.5 1115.0,690.0 1112.5,700.0 1107.5,719.0 1095.0,732.5 1085.0,750.0 1076.0,767.5 1079.0,782.5 1081.0,805.0 1085.0,817.5 1077.5,825.0 1072.5,840.0 1066.0,852.5 1064.0,865.5"/>
<polyline points="1085.2,293.2 1101.7,294.6 1107.4,301.8 1130.4,307.6 1151.9,314.7 1166.2,317.6 1173.4,326.2 1174.8,337.7 1180.6,340.5 1180.6,349.1"/>
<polyline points="1095.0,445.0 1175.0,443.5"/>
<polyline points="944.0,513.5 1062.5,513.0 1069.0,519.0"/>
<polyline points="758.0,535.0 955.0,534.0"/>
<polyline points="757.6,498.5 757.6,646.0"/>
<polyline points="406.0,646.2 976.0,646.0"/>
<polyline points="552.5,498.5 552.5,853.0"/>
<polyline points="406.0,462.0 406.0,679.0 400.0,683.0 395.0,679.0 385.0,680.0 386.0,696.0 387.5,716.5 389.0,722.0 395.0,730.0 402.5,746.0 392.5,757.5 391.0,772.5 385.0,782.5 387.5,792.5 392.5,797.5 390.0,802.0"/>
<polyline points="230.5,462.0 230.5,573.0 387.5,716.5"/>
<polyline points="729.3,646.0 729.3,831.0"/>
<polyline points="729.0,665.0 819.0,665.0 819.0,738.0 830.0,742.0 840.0,748.0 857.5,750.5 870.0,753.0 880.0,762.0 890.0,759.0 902.5,764.0 915.0,762.0 927.5,767.0 942.5,760.5 960.0,758.0 970.0,764.0 982.5,770.5 994.0,772.0 994.0,830.5 1002.5,845.5 1007.5,863.0 1002.5,878.0 1002.5,898.0 995.0,910.5"/>
<polyline points="623.0,831.0 729.0,831.0"/>
<polyline points="976.0,664.0 1107.5,664.0 1110.0,671.0 1102.0,682.0 1112.0,681.0"/>
<polyline points="994.0,792.0 1079.0,792.0"/>
<polyline points="1064.0,865.5 1120.0,865.5 1116.0,877.5 1121.0,890.0 1124.0,897.5"/>
<polyline points="1107.5,719.0 1310.0,720.0"/>
<polyline points="1125.0,663.0 1169.0,664.0 1169.0,658.0 1210.0,659.0 1297.5,661.0 1356.0,663.0 1525.0,664.0"/>
<polyline points="1167.5,720.0 1156.0,840.0 1160.0,887.5"/>
<polyline points="1240.0,721.0 1254.0,800.0 1260.0,817.5 1254.0,835.0 1255.0,855.0 1256.0,865.5 1260.0,875.0"/>
<polyline points="1181.0,865.5 1256.0,865.5"/>
<polyline points="1181.0,865.5 1186.0,878.0 1184.0,886.0"/>
<polyline points="1260.0,875.0 1342.5,884.0 1344.0,890.0 1347.5,872.5 1360.0,877.5"/>
<polyline points="1306.0,730.0 1320.0,740.0 1330.0,757.5 1342.5,770.0 1355.0,787.5 1365.0,800.0 1372.5,820.0 1375.0,827.5"/>
<polyline points="1306.0,730.0 1310.0,724.0 1335.0,711.0 1375.0,713.0 1382.5,725.0 1415.0,726.0 1447.5,760.0"/>
<polyline points="1356.0,663.0 1350.0,674.0 1335.0,679.0 1322.5,686.5 1307.5,696.5 1290.0,703.0 1281.0,709.0 1279.0,719.5"/>
<polyline points="1184.0,473.0 1184.0,559.0 1185.0,576.5 1181.0,589.0 1172.5,601.5 1170.0,614.0"/>
<polyline points="1170.0,614.0 1166.0,626.5 1156.0,631.5 1157.5,643.0 1140.0,639.0 1136.0,651.5"/>
<polyline points="1170.0,614.0 1182.5,611.5 1195.0,616.5 1202.5,611.5 1212.5,614.0 1219.0,603.0 1227.5,609.0 1235.0,604.0 1240.0,594.0 1247.5,583.0 1260.0,580.0 1264.7,569.0 1275.0,569.0 1282.5,579.0 1295.0,583.0 1307.5,584.0 1317.5,581.5 1327.5,591.5 1335.0,591.5 1340.0,579.0 1350.0,574.0 1360.0,561.5 1372.5,554.0 1380.0,544.0 1385.0,529.0 1386.0,513.0 1390.2,509.0"/>
<polyline points="1264.7,471.0 1264.7,569.0"/>
<polyline points="1207.4,470.0 1264.7,470.3 1265.4,472.0 1303.4,470.9"/>
<polyline points="1390.2,463.0 1390.2,545.0 1530.4,545.0"/>
<polyline points="1412.4,452.0 1412.4,462.0 1541.0,462.0 1550.0,472.5 1552.5,482.5 1557.5,486.0 1560.0,486.5 1550.0,496.5 1547.5,509.0 1557.5,521.5 1560.0,531.5 1545.0,539.0 1535.0,544.0"/>
<polyline points="1557.5,486.0 1585.0,499.0"/>
<polyline points="1538.0,543.0 1532.0,545.5 1530.4,548.0 1530.4,592.0 1549.0,592.0"/>
<polyline points="1327.5,591.5 1332.5,609.0 1345.0,629.0"/>
<polyline points="1345.0,629.0 1327.5,644.0 1315.0,654.0 1297.5,660.5"/>
<polyline points="1345.0,629.0 1357.5,639.0 1370.0,636.5 1382.5,631.5 1392.5,629.0 1397.5,621.5 1405.0,609.0 1412.5,598.0 1416.0,588.0 1422.5,594.0 1432.5,584.0 1440.0,576.5 1449.0,566.5 1454.0,555.0 1470.0,564.0 1467.5,550.0"/>
<polyline points="1420.0,545.0 1420.0,564.0 1435.0,554.0 1445.0,550.0 1455.0,551.5 1467.5,550.0"/>
<polyline points="1467.5,550.0 1470.0,556.4 1477.6,565.8 1490.8,573.3 1494.6,577.0 1487.0,584.6"/>
<polyline points="1599.0,352.0 1596.0,390.0 1599.0,405.0 1601.0,415.0 1605.0,434.0"/>
<polyline points="1654.0,351.0 1650.0,370.0 1637.5,380.0 1630.0,405.0 1625.0,425.0 1624.0,434.0"/>
<polyline points="1666.0,340.0 1670.0,390.0 1672.5,422.5 1675.0,430.0"/>
<polyline points="1605.0,434.0 1660.0,435.0 1672.0,430.0 1679.4,440.0"/>
<polyline points="1605.0,434.0 1602.0,440.0 1594.7,460.2 1593.5,488.4 1596.3,491.6 1588.2,495.6"/>
<polyline points="1594.7,460.6 1658.4,460.6"/>
<polyline points="1646.7,460.6 1646.7,487.6"/>
<polyline points="1658.4,461.0 1660.8,470.6 1664.8,476.0"/>
</g>
<g fill="none" stroke="#000" stroke-width="4" stroke-linejoin="round" stroke-linecap="round">
<polygon points="150.0,205.0 959.0,205.0 959.0,192.0 972.0,192.0 975.0,214.0 997.0,217.5 1001.0,222.0 1017.0,219.0 1030.0,221.5 1037.0,223.7 1041.5,232.3 1051.5,228.7 1063.0,237.3 1073.0,238.7 1086.0,232.3 1091.7,238.0 1107.4,237.3 1116.0,241.6 1127.5,241.6 1107.4,250.2 1091.7,257.4 1077.3,267.4 1065.9,277.4 1053.0,287.5 1070.0,285.3 1086.0,281.0 1089.5,284.6 1085.2,293.2 1091.7,291.8 1103.0,293.2 1114.6,287.5 1130.4,284.6 1141.9,277.4 1154.8,267.4 1163.4,261.7 1179.0,262.4 1167.7,270.3 1160.5,278.9 1157.0,287.5 1163.4,280.3 1177.7,283.2 1186.3,291.8 1190.6,297.5 1202.0,296.8 1209.3,300.4 1220.7,293.2 1230.8,290.3 1249.4,288.9 1260.2,287.5 1258.0,297.5 1271.0,299.0 1281.0,300.4 1282.4,310.4 1289.6,316.2 1268.0,314.7 1266.6,320.5 1259.5,314.7 1245.0,311.9 1230.8,314.7 1220.7,317.6 1215.0,323.3 1210.7,319.0 1206.4,324.8 1201.6,318.5 1198.4,321.8 1195.2,329.0 1190.3,338.7 1185.5,346.8 1182.3,351.6 1176.6,354.8 1171.0,361.3 1168.5,368.5 1172.6,364.5 1179.0,358.0 1184.7,354.8 1190.3,350.0 1195.2,343.5 1200.0,340.3 1201.6,340.3 1196.8,346.8 1191.9,353.2 1187.9,362.9 1184.7,372.6 1184.4,380.2 1180.1,387.4 1178.7,400.3 1173.7,413.2 1173.7,423.3 1177.2,434.7 1175.1,449.1 1178.7,457.7 1183.0,469.1 1185.9,476.3 1193.0,476.3 1207.4,469.1 1211.7,463.4 1218.8,451.9 1223.1,439.0 1223.1,426.1 1217.4,411.8 1213.1,403.2 1216.0,391.7 1214.5,386.0 1220.3,374.5 1221.7,363.0 1227.4,355.9 1238.9,347.2 1240.5,358.0 1244.0,360.0 1247.5,345.8 1259.0,337.2 1256.1,328.6 1263.3,324.3 1266.0,322.0 1276.2,325.7 1286.2,332.9 1302.0,338.6 1307.7,347.2 1304.2,353.0 1309.2,363.0 1307.7,375.9 1300.6,381.7 1299.1,387.4 1290.5,390.3 1288.4,397.4 1293.4,403.9 1300.6,400.3 1306.3,391.7 1316.4,386.7 1325.0,388.8 1329.3,397.4 1332.1,413.2 1333.6,426.1 1331.4,439.0 1327.8,441.9 1323.5,439.0 1320.7,447.6 1313.5,451.9 1312.0,460.5 1303.4,470.6 1307.7,472.0 1319.2,477.0 1326.4,480.0 1332.5,484.0 1342.2,480.0 1352.5,476.0 1365.1,470.6 1386.6,463.4 1402.4,454.8 1422.5,444.8 1434.0,437.6 1439.7,431.9 1433.2,423.3 1434.0,414.7 1452.5,412.0 1470.0,412.5 1477.5,416.0 1497.5,414.0 1510.0,405.0 1515.0,400.0 1512.5,387.5 1516.0,384.0 1526.0,372.5 1540.0,360.0 1555.0,352.0 1599.0,351.5 1654.0,351.0 1659.0,341.0 1666.0,339.5 1675.0,339.0 1677.5,332.5 1687.5,322.5 1690.0,307.5 1697.5,290.0 1710.0,272.5 1721.0,261.0 1727.5,262.5 1729.0,269.0 1737.5,267.5 1747.5,264.0 1757.5,267.5 1765.0,277.5 1765.0,325.0 1774.0,330.0 1775.0,340.0 1785.0,347.5 1785.0,357.5 1777.5,365.0 1767.5,367.5 1757.5,375.0 1747.5,372.5 1737.5,379.0 1732.5,370.0 1730.0,382.5 1715.0,390.0 1707.5,397.5 1695.0,400.0 1687.5,407.5 1680.0,420.0 1675.0,430.0 1679.4,440.0 1672.9,443.2 1668.0,448.0 1668.9,452.9 1674.5,454.5 1678.5,458.5 1681.0,464.2 1684.2,469.0 1689.0,471.5 1697.0,470.6 1700.5,468.0 1699.0,462.5 1693.0,459.5 1699.5,460.5 1703.0,468.0 1701.5,477.0 1695.0,474.5 1686.0,473.0 1680.0,480.0 1677.0,476.0 1670.0,482.0 1664.8,476.0 1660.0,482.0 1655.2,483.5 1648.0,490.0 1643.9,496.5 1632.6,502.0 1621.0,507.0 1605.0,513.4 1584.0,516.6 1572.0,517.4 1572.5,519.0 1581.0,521.5 1582.5,534.0 1575.0,551.5 1567.5,564.0 1557.5,575.0 1553.0,571.0 1545.0,564.0 1540.0,555.0 1536.0,547.0 1538.0,543.0 1532.0,547.0 1536.0,558.0 1542.0,571.0 1547.0,583.0 1551.0,586.5 1550.0,598.0 1545.4,609.0 1539.8,614.7 1534.0,624.0 1528.5,635.4 1524.7,642.0 1522.8,649.5 1526.6,661.8 1530.4,675.0 1537.0,691.0 1530.4,695.6 1522.8,703.2 1515.3,707.0 1513.4,716.4 1511.5,722.0 1504.0,723.9 1498.0,728.0 1490.0,734.0 1483.3,737.0 1477.6,742.0 1470.0,750.0 1462.5,760.0 1447.5,760.0 1435.0,772.5 1427.5,785.0 1410.0,800.0 1392.5,812.5 1382.5,820.0 1375.0,832.5 1367.5,847.5 1361.0,862.5 1360.0,877.0 1365.0,894.5 1372.5,919.5 1380.0,942.0 1387.5,967.0 1395.0,987.0 1400.0,1007.0 1405.0,1022.0 1404.0,1042.0 1401.0,1057.0 1396.0,1067.0 1392.5,1076.0 1385.0,1079.5 1375.0,1081.0 1371.0,1074.5 1367.5,1062.0 1362.5,1054.5 1354.0,1051.0 1350.0,1037.0 1345.0,1027.0 1340.0,1017.0 1332.5,1007.0 1327.5,994.5 1332.5,984.5 1322.5,979.5 1326.0,967.0 1329.0,947.0 1322.5,934.5 1310.0,924.5 1300.0,909.5 1287.5,899.5 1277.5,902.0 1275.0,907.0 1260.0,911.0 1247.5,912.0 1242.5,899.5 1232.5,891.0 1220.0,886.0 1210.0,884.0 1195.0,885.0 1184.0,886.0 1181.0,880.0 1179.0,872.0 1183.0,886.0 1174.0,891.0 1170.0,874.0 1166.0,890.0 1160.0,887.5 1147.5,887.5 1135.0,890.0 1124.0,897.5 1120.0,907.5 1132.5,900.0 1135.0,907.5 1127.5,917.5 1122.5,922.5 1135.0,930.0 1140.0,935.0 1130.0,941.0 1122.0,930.0 1112.5,925.0 1105.0,932.5 1092.5,935.0 1080.0,932.5 1070.0,922.5 1060.0,912.5 1050.0,910.5 1047.5,915.5 1035.0,918.0 1015.0,910.5 995.0,910.5 975.0,920.5 971.0,925.5 972.5,910.5 965.0,913.0 967.5,923.0 960.0,935.5 945.0,945.5 930.0,953.0 920.0,950.5 925.0,958.0 910.0,968.0 900.0,975.5 890.0,980.5 897.5,985.5 890.0,998.0 882.5,1000.5 892.5,1008.0 890.0,1017.0 893.4,1004.5 890.5,1016.0 893.4,1031.8 897.7,1046.0 902.0,1047.6 901.3,1051.9 894.8,1053.3 889.0,1051.0 883.3,1047.6 874.7,1047.6 866.0,1044.7 857.5,1039.0 846.0,1035.4 841.7,1026.0 837.4,1017.4 833.0,1010.3 834.6,1003.0 831.0,1001.7 831.7,993.0 826.0,987.3 820.2,981.6 816.0,973.0 810.2,968.7 806.0,958.6 801.6,948.6 797.5,935.5 785.0,922.0 775.0,912.0 750.0,909.0 740.0,913.0 735.0,925.5 730.0,935.5 722.5,940.5 707.5,930.5 692.5,920.5 682.5,908.0 680.0,893.0 672.5,880.5 657.5,868.0 642.5,853.0 630.0,840.5 623.0,831.0 623.0,837.5 576.0,837.5 576.0,853.0 554.0,853.0 492.5,854.0 384.0,810.0 384.0,805.0 390.0,802.0 316.0,810.0 312.5,797.5 307.5,785.0 300.0,777.5 290.0,767.5 282.5,766.0 279.0,760.0 270.0,755.0 257.5,752.5 247.5,742.5 235.0,740.0 219.0,740.0 214.0,734.0 214.0,724.0 210.0,715.0 206.0,705.0 197.5,695.0 185.0,680.0 182.5,679.0 175.0,666.5 177.5,659.0 176.0,649.0 165.0,641.5 159.0,629.0 157.5,611.5 150.0,611.0 144.0,609.0 142.5,599.0 132.5,584.0 122.5,574.0 120.0,559.0 119.0,541.5 109.0,526.5 102.5,518.0 109.0,499.0 111.0,481.5 106.0,462.0 105.0,459.0 102.0,442.0 99.0,430.0 106.0,412.0 110.0,392.0 114.0,355.0 117.0,320.0 116.0,305.0 114.0,290.0 110.0,280.0 107.1,263.1 104.6,254.6 101.2,247.8 96.1,242.7 94.4,235.9 93.5,227.8 97.8,227.3 105.4,229.9 113.0,233.3 124.0,235.9 132.7,236.7 139.5,236.7 144.6,240.1 152.0,232.0 159.9,225.6 161.2,220.5 159.9,215.4 154.8,213.3 150.5,210.3"/>
<polyline points="1588.2,495.6 1597.0,491.6 1611.6,488.4 1629.4,486.8 1645.5,487.6 1655.2,483.5"/>
<polyline points="1580.0,505.0 1587.4,496.5 1594.0,501.3 1608.4,499.7 1621.3,498.0 1631.0,493.2"/>
<polyline points="1586.6,511.0 1600.3,507.7 1616.5,503.0 1628.5,498.0 1640.6,495.6"/>
<polyline points="1585.0,499.7 1578.0,506.0 1573.0,512.0 1572.0,517.4"/>
<polyline points="1673.0,487.0 1680.0,484.0 1686.0,486.0 1682.0,489.0 1675.0,489.0 1673.0,487.0"/>
<polyline points="1692.0,488.0 1697.0,485.0 1701.0,488.0 1696.0,491.0 1692.0,488.0"/>
<polyline points="113.1,276.7 119.0,279.3 113.9,281.0 114.8,285.2 118.2,286.9"/>
<polyline points="160.0,604.0 167.0,607.0 163.0,614.0 166.0,622.0 172.0,628.0 164.0,624.0 160.0,615.0 161.0,608.0"/>
<polyline points="1098.0,893.0 1104.0,888.5 1112.0,889.0 1116.0,893.0 1112.0,899.0 1103.0,900.0 1098.0,896.0 1098.0,893.0"/>
<polyline points="972.5,910.5 968.0,918.0 974.0,922.0"/>
<polyline points="1241.0,346.0 1243.0,358.0 1240.0,361.0 1239.0,352.0"/>
</g>
<g fill="none" stroke="#000" stroke-width="5.5" stroke-linejoin="round" stroke-linecap="round">
<polyline points="159.9,225.6 162.4,230.7 165.0,237.6 168.0,241.4 165.0,246.1 164.1,254.6 165.0,264.8 161.6,269.9 156.5,274.1 151.4,276.7 146.3,278.4"/>
<polyline points="144.6,240.1 151.4,246.1 148.0,249.5 144.6,254.6 140.3,260.5 139.5,265.6 143.7,267.3 141.2,269.9 142.0,274.1 146.3,278.4"/>
<polyline points="153.1,224.8 154.8,230.7 153.1,237.6 156.5,242.7 154.8,249.5 153.1,256.3 155.6,261.4 153.1,266.5 149.7,271.6"/>
<polyline points="159.9,233.3 158.2,239.3 161.6,246.1 159.9,254.6 158.2,261.4 161.6,266.5"/>
<polyline points="141.2,219.7 146.3,217.1 150.5,218.8 149.7,223.9 144.6,224.8 141.2,222.2 144.6,220.5 148.0,221.4"/>
<polyline points="1522.8,552.6 1512.5,562.0 1505.9,564.8 1505.9,579.0 1504.0,592.0 1509.6,601.5 1514.4,612.8 1513.4,627.9 1512.5,641.0 1508.7,649.5 1522.8,648.6"/>
<polyline points="1521.0,551.6 1522.8,554.5 1517.2,563.9 1515.3,575.2 1517.2,584.6 1522.8,586.5 1519.0,595.9 1522.8,601.5 1526.6,609.0 1532.2,612.8 1528.5,618.5 1523.8,629.8 1522.8,639.2 1524.7,642.0"/>
<polyline points="1487.0,584.6 1483.3,594.0 1487.0,597.8 1492.7,594.0 1502.0,601.5 1509.6,605.3"/>
<polyline points="1494.6,608.0 1502.0,614.7 1511.5,620.4"/>
<polyline points="1498.4,627.9 1505.9,634.5 1513.4,635.4"/>
<polyline points="1494.6,637.3 1502.0,641.0 1507.8,646.7 1511.5,650.5"/>
<polyline points="1500.2,670.2 1502.0,678.7 1502.0,684.4 1509.6,678.7 1517.2,675.0 1522.8,673.0"/>
<polyline points="1522.8,680.6 1528.5,686.2 1526.6,693.8 1521.0,695.6 1519.0,690.0"/>
<polyline points="1492.7,701.3 1502.0,703.2 1507.8,699.4 1505.9,708.8 1515.3,707.0 1522.8,703.2 1530.4,695.6"/>
<polyline points="1490.8,714.5 1496.5,720.0 1504.0,723.9 1511.5,722.0 1513.4,716.4 1507.8,712.6"/>
<polyline points="1479.5,729.5 1483.3,737.0 1477.6,740.0"/>
</g>
</svg>
<h1>Spodoptera litura: Degree day (DD) accumulation 09/10/2024</h1>
<p class="sub" style="top:83.5px">Maps and modeling 09/10/2024 by Oregon State University IPPC USPEST.ORG and</p>
<p class="sub" style="top:119.6px">USDA-APHIS-PPQ; climate data from OSU PRISM Climate Group</p>
<p class="lt">Degree Days</p>
<div class="sw" style="top:487px;background:#5E4FA2"></div>
<p class="ll" style="top:488px">38-479</p>
<div class="sw" style="top:523px;background:#3288BD"></div>
<p class="ll" style="top:524px">479-920</p>
<div class="sw" style="top:559px;background:#66C2A5"></div>
<p class="ll" style="top:560px">920-1360</p>
<div class="sw" style="top:595px;background:#ABDDA4"></div>
<p class="ll" style="top:596px">1360-1800</p>
<div class="sw" style="top:631px;background:#E6F598"></div>
<p class="ll" style="top:632px">1800-2240</p>
<div class="sw" style="top:667px;background:#FEE08B"></div>
<p class="ll" style="top:668px">2240-2690</p>
<div class="sw" style="top:703px;background:#FDAE61"></div>
<p class="ll" style="top:704px">2690-3130</p>
<div class="sw" style="top:739px;background:#F46D43"></div>
<p class="ll" style="top:740px">3130-3570</p>
<div class="sw" style="top:775px;background:#D53E4F"></div>
<p class="ll" style="top:776px">3570-4010</p>
<div class="sw" style="top:811px;background:#9E0142"></div>
<p class="ll" style="top:812px">4010-4450</p>
</body></html>
